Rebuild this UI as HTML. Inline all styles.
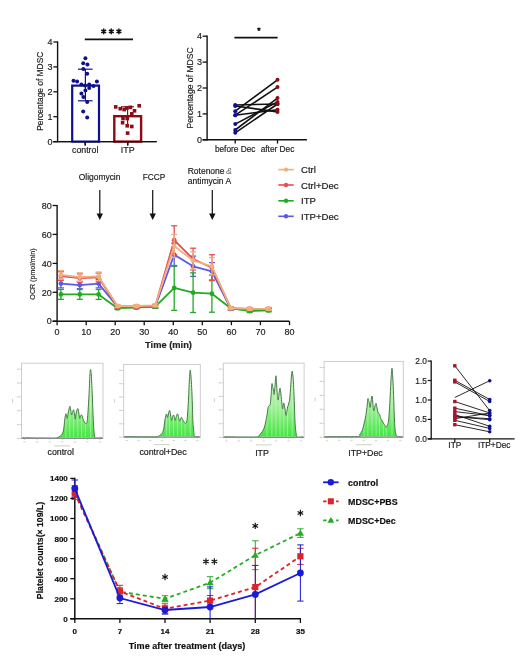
<!DOCTYPE html>
<html><head><meta charset="utf-8"><title>Figure</title>
<style>
html,body{margin:0;padding:0;background:#fff;}
svg{display:block;will-change:transform;}
svg text{font-family:"Liberation Sans", sans-serif;}
</style></head>
<body>
<svg width="520" height="661" viewBox="0 0 520 661">
<rect width="520" height="661" fill="#fff"/>
<line x1="57.6" y1="41.4" x2="57.6" y2="142.2" stroke="#111" stroke-width="1.4" />
<line x1="53.1" y1="141.6" x2="156.6" y2="141.6" stroke="#111" stroke-width="1.4" />
<line x1="53.4" y1="141.6" x2="57.6" y2="141.6" stroke="#111" stroke-width="1.3" />
<text x="52.6" y="144.8" font-size="9" text-anchor="end" font-weight="normal" fill="#222" stroke="#222" stroke-width="0.18" >0</text>
<line x1="53.4" y1="116.7" x2="57.6" y2="116.7" stroke="#111" stroke-width="1.3" />
<text x="52.6" y="119.9" font-size="9" text-anchor="end" font-weight="normal" fill="#222" stroke="#222" stroke-width="0.18" >1</text>
<line x1="53.4" y1="91.8" x2="57.6" y2="91.8" stroke="#111" stroke-width="1.3" />
<text x="52.6" y="95.0" font-size="9" text-anchor="end" font-weight="normal" fill="#222" stroke="#222" stroke-width="0.18" >2</text>
<line x1="53.4" y1="66.9" x2="57.6" y2="66.9" stroke="#111" stroke-width="1.3" />
<text x="52.6" y="70.1" font-size="9" text-anchor="end" font-weight="normal" fill="#222" stroke="#222" stroke-width="0.18" >3</text>
<line x1="53.4" y1="42.0" x2="57.6" y2="42.0" stroke="#111" stroke-width="1.3" />
<text x="52.6" y="45.2" font-size="9" text-anchor="end" font-weight="normal" fill="#222" stroke="#222" stroke-width="0.18" >4</text>
<line x1="85.2" y1="141.6" x2="85.2" y2="145.6" stroke="#111" stroke-width="1.3" />
<line x1="127.7" y1="141.6" x2="127.7" y2="145.6" stroke="#111" stroke-width="1.3" />
<text x="85.2" y="153.4" font-size="8.8" text-anchor="middle" font-weight="normal" fill="#222" stroke="#222" stroke-width="0.18" >control</text>
<text x="127.7" y="153.4" font-size="8.8" text-anchor="middle" font-weight="normal" fill="#222" stroke="#222" stroke-width="0.18" >ITP</text>
<text x="0" y="0" transform="translate(40.2,91.3) rotate(-90)" font-size="8.4" text-anchor="middle" dominant-baseline="central" font-weight="normal" fill="#222" stroke="#222" stroke-width="0.18">Percentage of MDSC</text>
<rect x="72.2" y="85.6" width="26.8" height="56.0" fill="none" stroke="#10108e" stroke-width="2.2"/>
<rect x="114.3" y="116.2" width="26.8" height="25.4" fill="none" stroke="#8c0c16" stroke-width="2.4"/>
<line x1="85.4" y1="69.2" x2="85.4" y2="100.8" stroke="#10108e" stroke-width="1.2" />
<line x1="78.0" y1="69.2" x2="92.6" y2="69.2" stroke="#10108e" stroke-width="1.2" />
<line x1="78.0" y1="100.8" x2="92.6" y2="100.8" stroke="#10108e" stroke-width="1.2" />
<line x1="127.6" y1="106.8" x2="127.6" y2="126.0" stroke="#8c0c16" stroke-width="1.2" />
<line x1="121.0" y1="106.8" x2="134.0" y2="106.8" stroke="#8c0c16" stroke-width="1.2" />
<circle cx="85.4" cy="58.3" r="2.0" fill="#10108e"/>
<circle cx="83.2" cy="63.2" r="2.0" fill="#10108e"/>
<circle cx="87.4" cy="64.4" r="2.0" fill="#10108e"/>
<circle cx="83.4" cy="68.9" r="2.0" fill="#10108e"/>
<circle cx="87.2" cy="73.8" r="2.0" fill="#10108e"/>
<circle cx="73.5" cy="80.8" r="2.0" fill="#10108e"/>
<circle cx="77.1" cy="81.6" r="2.0" fill="#10108e"/>
<circle cx="96.9" cy="81.6" r="2.0" fill="#10108e"/>
<circle cx="81.4" cy="84.4" r="2.0" fill="#10108e"/>
<circle cx="85" cy="85.6" r="2.0" fill="#10108e"/>
<circle cx="89.2" cy="84.4" r="2.0" fill="#10108e"/>
<circle cx="93.5" cy="86" r="2.0" fill="#10108e"/>
<circle cx="89.2" cy="88" r="2.0" fill="#10108e"/>
<circle cx="85.4" cy="90.5" r="2.0" fill="#10108e"/>
<circle cx="81.4" cy="93.5" r="2.0" fill="#10108e"/>
<circle cx="83.4" cy="97.1" r="2.0" fill="#10108e"/>
<circle cx="87.2" cy="102" r="2.0" fill="#10108e"/>
<circle cx="83.2" cy="111.4" r="2.0" fill="#10108e"/>
<circle cx="87.2" cy="117.4" r="2.0" fill="#10108e"/>
<rect x="113.9" y="105.1" width="3.6" height="3.6" fill="#8c0c16"/>
<rect x="118.5" y="106.9" width="3.6" height="3.6" fill="#8c0c16"/>
<rect x="122.4" y="107.8" width="3.6" height="3.6" fill="#8c0c16"/>
<rect x="125.0" y="106.3" width="3.6" height="3.6" fill="#8c0c16"/>
<rect x="128.5" y="105.5" width="3.6" height="3.6" fill="#8c0c16"/>
<rect x="137.4" y="104.0" width="3.6" height="3.6" fill="#8c0c16"/>
<rect x="132.7" y="109.0" width="3.6" height="3.6" fill="#8c0c16"/>
<rect x="130.0" y="112.0" width="3.6" height="3.6" fill="#8c0c16"/>
<rect x="121.2" y="116.7" width="3.6" height="3.6" fill="#8c0c16"/>
<rect x="125.4" y="116.7" width="3.6" height="3.6" fill="#8c0c16"/>
<rect x="120.8" y="120.9" width="3.6" height="3.6" fill="#8c0c16"/>
<rect x="125.4" y="124.0" width="3.6" height="3.6" fill="#8c0c16"/>
<rect x="130.0" y="124.7" width="3.6" height="3.6" fill="#8c0c16"/>
<rect x="125.8" y="131.3" width="3.6" height="3.6" fill="#8c0c16"/>
<line x1="53.1" y1="141.6" x2="156.6" y2="141.6" stroke="#111" stroke-width="1.4" />
<line x1="85.2" y1="141.6" x2="85.2" y2="145.6" stroke="#111" stroke-width="1.3" />
<line x1="127.7" y1="141.6" x2="127.7" y2="145.6" stroke="#111" stroke-width="1.3" />
<line x1="84.8" y1="39.4" x2="133.0" y2="39.4" stroke="#111" stroke-width="1.6" />
<path d="M103.70,28.60L103.70,34.20M106.12,30.00L101.28,32.80M106.12,32.80L101.28,30.00" stroke="#111" stroke-width="1.5" stroke-linecap="butt"/>
<path d="M111.30,28.60L111.30,34.20M113.72,30.00L108.88,32.80M113.72,32.80L108.88,30.00" stroke="#111" stroke-width="1.5" stroke-linecap="butt"/>
<path d="M118.90,28.60L118.90,34.20M121.32,30.00L116.48,32.80M121.32,32.80L116.48,30.00" stroke="#111" stroke-width="1.5" stroke-linecap="butt"/>
<line x1="207.1" y1="35.6" x2="207.1" y2="140.4" stroke="#111" stroke-width="1.4" />
<line x1="202.6" y1="139.8" x2="306.9" y2="139.8" stroke="#111" stroke-width="1.4" />
<line x1="202.6" y1="139.8" x2="207.1" y2="139.8" stroke="#111" stroke-width="1.3" />
<text x="202.1" y="143.0" font-size="9" text-anchor="end" font-weight="normal" fill="#222" stroke="#222" stroke-width="0.18" >0</text>
<line x1="202.6" y1="113.9" x2="207.1" y2="113.9" stroke="#111" stroke-width="1.3" />
<text x="202.1" y="117.1" font-size="9" text-anchor="end" font-weight="normal" fill="#222" stroke="#222" stroke-width="0.18" >1</text>
<line x1="202.6" y1="88.0" x2="207.1" y2="88.0" stroke="#111" stroke-width="1.3" />
<text x="202.1" y="91.2" font-size="9" text-anchor="end" font-weight="normal" fill="#222" stroke="#222" stroke-width="0.18" >2</text>
<line x1="202.6" y1="62.1" x2="207.1" y2="62.1" stroke="#111" stroke-width="1.3" />
<text x="202.1" y="65.3" font-size="9" text-anchor="end" font-weight="normal" fill="#222" stroke="#222" stroke-width="0.18" >3</text>
<line x1="202.6" y1="36.2" x2="207.1" y2="36.2" stroke="#111" stroke-width="1.3" />
<text x="202.1" y="39.4" font-size="9" text-anchor="end" font-weight="normal" fill="#222" stroke="#222" stroke-width="0.18" >4</text>
<line x1="235.2" y1="139.8" x2="235.2" y2="143.6" stroke="#111" stroke-width="1.3" />
<line x1="277.5" y1="139.8" x2="277.5" y2="143.6" stroke="#111" stroke-width="1.3" />
<text x="235.2" y="151.8" font-size="8.3" text-anchor="middle" font-weight="normal" fill="#222" stroke="#222" stroke-width="0.18" >before Dec</text>
<text x="277.5" y="151.8" font-size="8.3" text-anchor="middle" font-weight="normal" fill="#222" stroke="#222" stroke-width="0.18" >after Dec</text>
<text x="0" y="0" transform="translate(189.8,87.9) rotate(-90)" font-size="8.6" text-anchor="middle" dominant-baseline="central" font-weight="normal" fill="#222" stroke="#222" stroke-width="0.18">Percentage of MDSC</text>
<line x1="234.4" y1="37.6" x2="277.6" y2="37.6" stroke="#111" stroke-width="1.6" />
<path d="M258.90,27.40L258.90,31.00M260.46,28.30L257.34,30.10M260.46,30.10L257.34,28.30" stroke="#111" stroke-width="1.1" stroke-linecap="butt"/>
<line x1="235.2" y1="105.0" x2="277.5" y2="104.0" stroke="#111" stroke-width="1.6" />
<line x1="235.2" y1="106.0" x2="277.5" y2="111.9" stroke="#111" stroke-width="1.6" />
<line x1="235.2" y1="111.2" x2="277.5" y2="79.8" stroke="#111" stroke-width="1.6" />
<line x1="235.2" y1="115.2" x2="277.5" y2="87.1" stroke="#111" stroke-width="1.6" />
<line x1="235.2" y1="115.2" x2="277.5" y2="109.8" stroke="#111" stroke-width="1.6" />
<line x1="235.2" y1="124.1" x2="277.5" y2="101.9" stroke="#111" stroke-width="1.6" />
<line x1="235.2" y1="130.0" x2="277.5" y2="98.1" stroke="#111" stroke-width="1.6" />
<line x1="235.2" y1="132.8" x2="277.5" y2="104.0" stroke="#111" stroke-width="1.6" />
<circle cx="235.25" cy="105" r="2.0" fill="#10108e"/>
<circle cx="277.5" cy="104" r="2.0" fill="#8c0c16"/>
<circle cx="235.25" cy="106" r="2.0" fill="#10108e"/>
<circle cx="277.5" cy="111.9" r="2.0" fill="#8c0c16"/>
<circle cx="235.25" cy="111.25" r="2.0" fill="#10108e"/>
<circle cx="277.5" cy="79.75" r="2.0" fill="#8c0c16"/>
<circle cx="235.25" cy="115.25" r="2.0" fill="#10108e"/>
<circle cx="277.5" cy="87.1" r="2.0" fill="#8c0c16"/>
<circle cx="235.25" cy="115.25" r="2.0" fill="#10108e"/>
<circle cx="277.5" cy="109.75" r="2.0" fill="#8c0c16"/>
<circle cx="235.25" cy="124.1" r="2.0" fill="#10108e"/>
<circle cx="277.5" cy="101.9" r="2.0" fill="#8c0c16"/>
<circle cx="235.25" cy="130" r="2.0" fill="#10108e"/>
<circle cx="277.5" cy="98.1" r="2.0" fill="#8c0c16"/>
<circle cx="235.25" cy="132.75" r="2.0" fill="#10108e"/>
<circle cx="277.5" cy="104" r="2.0" fill="#8c0c16"/>
<line x1="57.1" y1="204.9" x2="57.1" y2="321.8" stroke="#111" stroke-width="1.4" />
<line x1="52.6" y1="321.2" x2="289.5" y2="321.2" stroke="#111" stroke-width="1.4" />
<line x1="52.6" y1="321.2" x2="57.1" y2="321.2" stroke="#111" stroke-width="1.3" />
<text x="51.8" y="324.4" font-size="9" text-anchor="end" font-weight="normal" fill="#222" stroke="#222" stroke-width="0.18" >0</text>
<line x1="52.6" y1="292.3" x2="57.1" y2="292.3" stroke="#111" stroke-width="1.3" />
<text x="51.8" y="295.5" font-size="9" text-anchor="end" font-weight="normal" fill="#222" stroke="#222" stroke-width="0.18" >20</text>
<line x1="52.6" y1="263.4" x2="57.1" y2="263.4" stroke="#111" stroke-width="1.3" />
<text x="51.8" y="266.6" font-size="9" text-anchor="end" font-weight="normal" fill="#222" stroke="#222" stroke-width="0.18" >40</text>
<line x1="52.6" y1="234.4" x2="57.1" y2="234.4" stroke="#111" stroke-width="1.3" />
<text x="51.8" y="237.6" font-size="9" text-anchor="end" font-weight="normal" fill="#222" stroke="#222" stroke-width="0.18" >60</text>
<line x1="52.6" y1="205.5" x2="57.1" y2="205.5" stroke="#111" stroke-width="1.3" />
<text x="51.8" y="208.7" font-size="9" text-anchor="end" font-weight="normal" fill="#222" stroke="#222" stroke-width="0.18" >80</text>
<line x1="57.1" y1="321.2" x2="57.1" y2="325.2" stroke="#111" stroke-width="1.3" />
<text x="57.1" y="335.0" font-size="9" text-anchor="middle" font-weight="normal" fill="#222" stroke="#222" stroke-width="0.18" >0</text>
<line x1="86.2" y1="321.2" x2="86.2" y2="325.2" stroke="#111" stroke-width="1.3" />
<text x="86.2" y="335.0" font-size="9" text-anchor="middle" font-weight="normal" fill="#222" stroke="#222" stroke-width="0.18" >10</text>
<line x1="115.2" y1="321.2" x2="115.2" y2="325.2" stroke="#111" stroke-width="1.3" />
<text x="115.2" y="335.0" font-size="9" text-anchor="middle" font-weight="normal" fill="#222" stroke="#222" stroke-width="0.18" >20</text>
<line x1="144.2" y1="321.2" x2="144.2" y2="325.2" stroke="#111" stroke-width="1.3" />
<text x="144.2" y="335.0" font-size="9" text-anchor="middle" font-weight="normal" fill="#222" stroke="#222" stroke-width="0.18" >30</text>
<line x1="173.3" y1="321.2" x2="173.3" y2="325.2" stroke="#111" stroke-width="1.3" />
<text x="173.3" y="335.0" font-size="9" text-anchor="middle" font-weight="normal" fill="#222" stroke="#222" stroke-width="0.18" >40</text>
<line x1="202.3" y1="321.2" x2="202.3" y2="325.2" stroke="#111" stroke-width="1.3" />
<text x="202.3" y="335.0" font-size="9" text-anchor="middle" font-weight="normal" fill="#222" stroke="#222" stroke-width="0.18" >50</text>
<line x1="231.4" y1="321.2" x2="231.4" y2="325.2" stroke="#111" stroke-width="1.3" />
<text x="231.4" y="335.0" font-size="9" text-anchor="middle" font-weight="normal" fill="#222" stroke="#222" stroke-width="0.18" >60</text>
<line x1="260.4" y1="321.2" x2="260.4" y2="325.2" stroke="#111" stroke-width="1.3" />
<text x="260.4" y="335.0" font-size="9" text-anchor="middle" font-weight="normal" fill="#222" stroke="#222" stroke-width="0.18" >70</text>
<line x1="289.5" y1="321.2" x2="289.5" y2="325.2" stroke="#111" stroke-width="1.3" />
<text x="289.5" y="335.0" font-size="9" text-anchor="middle" font-weight="normal" fill="#222" stroke="#222" stroke-width="0.18" >80</text>
<text x="0" y="0" transform="translate(32.5,274.0) rotate(-90)" font-size="7.1" text-anchor="middle" dominant-baseline="central" font-weight="normal" fill="#222" stroke="#222" stroke-width="0.18">OCR (pmol/min)</text>
<text x="168.5" y="348.2" font-size="9.3" text-anchor="middle" font-weight="bold" fill="#222" stroke="#222" stroke-width="0.18" >Time (min)</text>
<line x1="99.8" y1="190.0" x2="99.8" y2="214.0" stroke="#111" stroke-width="1.2" />
<path d="M96.6,213.5 L103.0,213.5 L99.8,220 Z" fill="#111"/>
<line x1="152.7" y1="190.0" x2="152.7" y2="214.0" stroke="#111" stroke-width="1.2" />
<path d="M149.5,213.5 L155.9,213.5 L152.7,220 Z" fill="#111"/>
<line x1="212.3" y1="190.0" x2="212.3" y2="214.0" stroke="#111" stroke-width="1.2" />
<path d="M209.1,213.5 L215.5,213.5 L212.3,220 Z" fill="#111"/>
<text x="78.7" y="180.4" font-size="8.45" text-anchor="start" font-weight="normal" fill="#222" stroke="#222" stroke-width="0.18" >Oligomycin</text>
<text x="142.7" y="180.4" font-size="8.3" text-anchor="start" font-weight="normal" fill="#222" stroke="#222" stroke-width="0.18" >FCCP</text>
<text x="187.7" y="173.8" font-size="8.5" text-anchor="start" font-weight="normal" fill="#222" stroke="#222" stroke-width="0.18" >Rotenone</text>
<text x="226" y="173.8" font-size="9" font-family="Liberation Serif, serif" font-style="italic" fill="#666">&amp;</text>
<text x="187.7" y="184.0" font-size="8.5" text-anchor="start" font-weight="normal" fill="#222" stroke="#222" stroke-width="0.18" >antimycin A</text>
<polyline points="60.9,283.6 79.8,285.1 98.6,283.6 117.5,306.7 136.4,306.7 155.3,306.7 174.2,254.7 193.1,266.3 211.9,271.3 230.8,308.9 249.7,309.6 268.6,309.6" fill="none" stroke="#5a5ae6" stroke-width="1.8" stroke-linejoin="round"/>
<line x1="60.9" y1="279.3" x2="60.9" y2="287.9" stroke="#5a5ae6" stroke-width="1.3" />
<line x1="57.9" y1="279.3" x2="63.9" y2="279.3" stroke="#5a5ae6" stroke-width="1.3" />
<line x1="57.9" y1="287.9" x2="63.9" y2="287.9" stroke="#5a5ae6" stroke-width="1.3" />
<circle cx="60.9" cy="283.6" r="2.4" fill="#5a5ae6"/>
<line x1="79.8" y1="281.4" x2="79.8" y2="288.7" stroke="#5a5ae6" stroke-width="1.3" />
<line x1="76.8" y1="281.4" x2="82.8" y2="281.4" stroke="#5a5ae6" stroke-width="1.3" />
<line x1="76.8" y1="288.7" x2="82.8" y2="288.7" stroke="#5a5ae6" stroke-width="1.3" />
<circle cx="79.8" cy="285.1" r="2.4" fill="#5a5ae6"/>
<line x1="98.6" y1="279.3" x2="98.6" y2="287.9" stroke="#5a5ae6" stroke-width="1.3" />
<line x1="95.6" y1="279.3" x2="101.6" y2="279.3" stroke="#5a5ae6" stroke-width="1.3" />
<line x1="95.6" y1="287.9" x2="101.6" y2="287.9" stroke="#5a5ae6" stroke-width="1.3" />
<circle cx="98.6" cy="283.6" r="2.4" fill="#5a5ae6"/>
<line x1="117.5" y1="305.3" x2="117.5" y2="308.2" stroke="#5a5ae6" stroke-width="1.3" />
<line x1="114.5" y1="305.3" x2="120.5" y2="305.3" stroke="#5a5ae6" stroke-width="1.3" />
<line x1="114.5" y1="308.2" x2="120.5" y2="308.2" stroke="#5a5ae6" stroke-width="1.3" />
<circle cx="117.5" cy="306.7" r="2.4" fill="#5a5ae6"/>
<line x1="136.4" y1="305.3" x2="136.4" y2="308.2" stroke="#5a5ae6" stroke-width="1.3" />
<line x1="133.4" y1="305.3" x2="139.4" y2="305.3" stroke="#5a5ae6" stroke-width="1.3" />
<line x1="133.4" y1="308.2" x2="139.4" y2="308.2" stroke="#5a5ae6" stroke-width="1.3" />
<circle cx="136.4" cy="306.7" r="2.4" fill="#5a5ae6"/>
<line x1="155.3" y1="305.3" x2="155.3" y2="308.2" stroke="#5a5ae6" stroke-width="1.3" />
<line x1="152.3" y1="305.3" x2="158.3" y2="305.3" stroke="#5a5ae6" stroke-width="1.3" />
<line x1="152.3" y1="308.2" x2="158.3" y2="308.2" stroke="#5a5ae6" stroke-width="1.3" />
<circle cx="155.3" cy="306.7" r="2.4" fill="#5a5ae6"/>
<line x1="174.2" y1="243.1" x2="174.2" y2="266.3" stroke="#5a5ae6" stroke-width="1.3" />
<line x1="171.2" y1="243.1" x2="177.2" y2="243.1" stroke="#5a5ae6" stroke-width="1.3" />
<line x1="171.2" y1="266.3" x2="177.2" y2="266.3" stroke="#5a5ae6" stroke-width="1.3" />
<circle cx="174.2" cy="254.7" r="2.4" fill="#5a5ae6"/>
<line x1="193.1" y1="256.1" x2="193.1" y2="276.4" stroke="#5a5ae6" stroke-width="1.3" />
<line x1="190.1" y1="256.1" x2="196.1" y2="256.1" stroke="#5a5ae6" stroke-width="1.3" />
<line x1="190.1" y1="276.4" x2="196.1" y2="276.4" stroke="#5a5ae6" stroke-width="1.3" />
<circle cx="193.1" cy="266.3" r="2.4" fill="#5a5ae6"/>
<line x1="211.9" y1="262.6" x2="211.9" y2="280.0" stroke="#5a5ae6" stroke-width="1.3" />
<line x1="208.9" y1="262.6" x2="214.9" y2="262.6" stroke="#5a5ae6" stroke-width="1.3" />
<line x1="208.9" y1="280.0" x2="214.9" y2="280.0" stroke="#5a5ae6" stroke-width="1.3" />
<circle cx="211.9" cy="271.3" r="2.4" fill="#5a5ae6"/>
<line x1="230.8" y1="307.5" x2="230.8" y2="310.4" stroke="#5a5ae6" stroke-width="1.3" />
<line x1="227.8" y1="307.5" x2="233.8" y2="307.5" stroke="#5a5ae6" stroke-width="1.3" />
<line x1="227.8" y1="310.4" x2="233.8" y2="310.4" stroke="#5a5ae6" stroke-width="1.3" />
<circle cx="230.8" cy="308.9" r="2.4" fill="#5a5ae6"/>
<line x1="249.7" y1="308.2" x2="249.7" y2="311.1" stroke="#5a5ae6" stroke-width="1.3" />
<line x1="246.7" y1="308.2" x2="252.7" y2="308.2" stroke="#5a5ae6" stroke-width="1.3" />
<line x1="246.7" y1="311.1" x2="252.7" y2="311.1" stroke="#5a5ae6" stroke-width="1.3" />
<circle cx="249.7" cy="309.6" r="2.4" fill="#5a5ae6"/>
<line x1="268.6" y1="308.2" x2="268.6" y2="311.1" stroke="#5a5ae6" stroke-width="1.3" />
<line x1="265.6" y1="308.2" x2="271.6" y2="308.2" stroke="#5a5ae6" stroke-width="1.3" />
<line x1="265.6" y1="311.1" x2="271.6" y2="311.1" stroke="#5a5ae6" stroke-width="1.3" />
<circle cx="268.6" cy="309.6" r="2.4" fill="#5a5ae6"/>
<polyline points="60.9,294.4 79.8,294.4 98.6,294.4 117.5,308.2 136.4,307.5 155.3,306.7 174.2,287.9 193.1,292.7 211.9,293.7 230.8,308.2 249.7,311.1 268.6,310.4" fill="none" stroke="#22aa22" stroke-width="1.8" stroke-linejoin="round"/>
<line x1="60.9" y1="289.5" x2="60.9" y2="299.4" stroke="#22aa22" stroke-width="1.3" />
<line x1="57.9" y1="289.5" x2="63.9" y2="289.5" stroke="#22aa22" stroke-width="1.3" />
<line x1="57.9" y1="299.4" x2="63.9" y2="299.4" stroke="#22aa22" stroke-width="1.3" />
<circle cx="60.9" cy="294.4" r="2.4" fill="#22aa22"/>
<line x1="79.8" y1="289.5" x2="79.8" y2="299.4" stroke="#22aa22" stroke-width="1.3" />
<line x1="76.8" y1="289.5" x2="82.8" y2="289.5" stroke="#22aa22" stroke-width="1.3" />
<line x1="76.8" y1="299.4" x2="82.8" y2="299.4" stroke="#22aa22" stroke-width="1.3" />
<circle cx="79.8" cy="294.4" r="2.4" fill="#22aa22"/>
<line x1="98.6" y1="289.5" x2="98.6" y2="299.4" stroke="#22aa22" stroke-width="1.3" />
<line x1="95.6" y1="289.5" x2="101.6" y2="289.5" stroke="#22aa22" stroke-width="1.3" />
<line x1="95.6" y1="299.4" x2="101.6" y2="299.4" stroke="#22aa22" stroke-width="1.3" />
<circle cx="98.6" cy="294.4" r="2.4" fill="#22aa22"/>
<line x1="117.5" y1="306.7" x2="117.5" y2="309.6" stroke="#22aa22" stroke-width="1.3" />
<line x1="114.5" y1="306.7" x2="120.5" y2="306.7" stroke="#22aa22" stroke-width="1.3" />
<line x1="114.5" y1="309.6" x2="120.5" y2="309.6" stroke="#22aa22" stroke-width="1.3" />
<circle cx="117.5" cy="308.2" r="2.4" fill="#22aa22"/>
<line x1="136.4" y1="306.0" x2="136.4" y2="308.9" stroke="#22aa22" stroke-width="1.3" />
<line x1="133.4" y1="306.0" x2="139.4" y2="306.0" stroke="#22aa22" stroke-width="1.3" />
<line x1="133.4" y1="308.9" x2="139.4" y2="308.9" stroke="#22aa22" stroke-width="1.3" />
<circle cx="136.4" cy="307.5" r="2.4" fill="#22aa22"/>
<line x1="155.3" y1="305.3" x2="155.3" y2="308.2" stroke="#22aa22" stroke-width="1.3" />
<line x1="152.3" y1="305.3" x2="158.3" y2="305.3" stroke="#22aa22" stroke-width="1.3" />
<line x1="152.3" y1="308.2" x2="158.3" y2="308.2" stroke="#22aa22" stroke-width="1.3" />
<circle cx="155.3" cy="306.7" r="2.4" fill="#22aa22"/>
<line x1="174.2" y1="265.5" x2="174.2" y2="310.4" stroke="#22aa22" stroke-width="1.3" />
<line x1="171.2" y1="265.5" x2="177.2" y2="265.5" stroke="#22aa22" stroke-width="1.3" />
<line x1="171.2" y1="310.4" x2="177.2" y2="310.4" stroke="#22aa22" stroke-width="1.3" />
<circle cx="174.2" cy="287.9" r="2.4" fill="#22aa22"/>
<line x1="193.1" y1="272.9" x2="193.1" y2="312.5" stroke="#22aa22" stroke-width="1.3" />
<line x1="190.1" y1="272.9" x2="196.1" y2="272.9" stroke="#22aa22" stroke-width="1.3" />
<line x1="190.1" y1="312.5" x2="196.1" y2="312.5" stroke="#22aa22" stroke-width="1.3" />
<circle cx="193.1" cy="292.7" r="2.4" fill="#22aa22"/>
<line x1="211.9" y1="275.2" x2="211.9" y2="312.2" stroke="#22aa22" stroke-width="1.3" />
<line x1="208.9" y1="275.2" x2="214.9" y2="275.2" stroke="#22aa22" stroke-width="1.3" />
<line x1="208.9" y1="312.2" x2="214.9" y2="312.2" stroke="#22aa22" stroke-width="1.3" />
<circle cx="211.9" cy="293.7" r="2.4" fill="#22aa22"/>
<line x1="230.8" y1="306.7" x2="230.8" y2="309.6" stroke="#22aa22" stroke-width="1.3" />
<line x1="227.8" y1="306.7" x2="233.8" y2="306.7" stroke="#22aa22" stroke-width="1.3" />
<line x1="227.8" y1="309.6" x2="233.8" y2="309.6" stroke="#22aa22" stroke-width="1.3" />
<circle cx="230.8" cy="308.2" r="2.4" fill="#22aa22"/>
<line x1="249.7" y1="309.6" x2="249.7" y2="312.5" stroke="#22aa22" stroke-width="1.3" />
<line x1="246.7" y1="309.6" x2="252.7" y2="309.6" stroke="#22aa22" stroke-width="1.3" />
<line x1="246.7" y1="312.5" x2="252.7" y2="312.5" stroke="#22aa22" stroke-width="1.3" />
<circle cx="249.7" cy="311.1" r="2.4" fill="#22aa22"/>
<line x1="268.6" y1="308.9" x2="268.6" y2="311.8" stroke="#22aa22" stroke-width="1.3" />
<line x1="265.6" y1="308.9" x2="271.6" y2="308.9" stroke="#22aa22" stroke-width="1.3" />
<line x1="265.6" y1="311.8" x2="271.6" y2="311.8" stroke="#22aa22" stroke-width="1.3" />
<circle cx="268.6" cy="310.4" r="2.4" fill="#22aa22"/>
<polyline points="60.9,276.1 79.8,278.1 98.6,277.4 117.5,306.7 136.4,306.7 155.3,306.0 174.2,240.2 193.1,259.0 211.9,267.7 230.8,308.2 249.7,308.9 268.6,308.9" fill="none" stroke="#ea4a52" stroke-width="1.8" stroke-linejoin="round"/>
<line x1="60.9" y1="271.7" x2="60.9" y2="280.4" stroke="#ea4a52" stroke-width="1.3" />
<line x1="57.9" y1="271.7" x2="63.9" y2="271.7" stroke="#ea4a52" stroke-width="1.3" />
<line x1="57.9" y1="280.4" x2="63.9" y2="280.4" stroke="#ea4a52" stroke-width="1.3" />
<circle cx="60.9" cy="276.1" r="2.4" fill="#ea4a52"/>
<line x1="79.8" y1="273.8" x2="79.8" y2="282.4" stroke="#ea4a52" stroke-width="1.3" />
<line x1="76.8" y1="273.8" x2="82.8" y2="273.8" stroke="#ea4a52" stroke-width="1.3" />
<line x1="76.8" y1="282.4" x2="82.8" y2="282.4" stroke="#ea4a52" stroke-width="1.3" />
<circle cx="79.8" cy="278.1" r="2.4" fill="#ea4a52"/>
<line x1="98.6" y1="273.0" x2="98.6" y2="281.7" stroke="#ea4a52" stroke-width="1.3" />
<line x1="95.6" y1="273.0" x2="101.6" y2="273.0" stroke="#ea4a52" stroke-width="1.3" />
<line x1="95.6" y1="281.7" x2="101.6" y2="281.7" stroke="#ea4a52" stroke-width="1.3" />
<circle cx="98.6" cy="277.4" r="2.4" fill="#ea4a52"/>
<line x1="117.5" y1="305.3" x2="117.5" y2="308.2" stroke="#ea4a52" stroke-width="1.3" />
<line x1="114.5" y1="305.3" x2="120.5" y2="305.3" stroke="#ea4a52" stroke-width="1.3" />
<line x1="114.5" y1="308.2" x2="120.5" y2="308.2" stroke="#ea4a52" stroke-width="1.3" />
<circle cx="117.5" cy="306.7" r="2.4" fill="#ea4a52"/>
<line x1="136.4" y1="305.3" x2="136.4" y2="308.2" stroke="#ea4a52" stroke-width="1.3" />
<line x1="133.4" y1="305.3" x2="139.4" y2="305.3" stroke="#ea4a52" stroke-width="1.3" />
<line x1="133.4" y1="308.2" x2="139.4" y2="308.2" stroke="#ea4a52" stroke-width="1.3" />
<circle cx="136.4" cy="306.7" r="2.4" fill="#ea4a52"/>
<line x1="155.3" y1="304.6" x2="155.3" y2="307.5" stroke="#ea4a52" stroke-width="1.3" />
<line x1="152.3" y1="304.6" x2="158.3" y2="304.6" stroke="#ea4a52" stroke-width="1.3" />
<line x1="152.3" y1="307.5" x2="158.3" y2="307.5" stroke="#ea4a52" stroke-width="1.3" />
<circle cx="155.3" cy="306.0" r="2.4" fill="#ea4a52"/>
<line x1="174.2" y1="225.8" x2="174.2" y2="254.7" stroke="#ea4a52" stroke-width="1.3" />
<line x1="171.2" y1="225.8" x2="177.2" y2="225.8" stroke="#ea4a52" stroke-width="1.3" />
<line x1="171.2" y1="254.7" x2="177.2" y2="254.7" stroke="#ea4a52" stroke-width="1.3" />
<circle cx="174.2" cy="240.2" r="2.4" fill="#ea4a52"/>
<line x1="193.1" y1="248.2" x2="193.1" y2="269.9" stroke="#ea4a52" stroke-width="1.3" />
<line x1="190.1" y1="248.2" x2="196.1" y2="248.2" stroke="#ea4a52" stroke-width="1.3" />
<line x1="190.1" y1="269.9" x2="196.1" y2="269.9" stroke="#ea4a52" stroke-width="1.3" />
<circle cx="193.1" cy="259.0" r="2.4" fill="#ea4a52"/>
<line x1="211.9" y1="254.7" x2="211.9" y2="280.7" stroke="#ea4a52" stroke-width="1.3" />
<line x1="208.9" y1="254.7" x2="214.9" y2="254.7" stroke="#ea4a52" stroke-width="1.3" />
<line x1="208.9" y1="280.7" x2="214.9" y2="280.7" stroke="#ea4a52" stroke-width="1.3" />
<circle cx="211.9" cy="267.7" r="2.4" fill="#ea4a52"/>
<line x1="230.8" y1="306.7" x2="230.8" y2="309.6" stroke="#ea4a52" stroke-width="1.3" />
<line x1="227.8" y1="306.7" x2="233.8" y2="306.7" stroke="#ea4a52" stroke-width="1.3" />
<line x1="227.8" y1="309.6" x2="233.8" y2="309.6" stroke="#ea4a52" stroke-width="1.3" />
<circle cx="230.8" cy="308.2" r="2.4" fill="#ea4a52"/>
<line x1="249.7" y1="307.5" x2="249.7" y2="310.4" stroke="#ea4a52" stroke-width="1.3" />
<line x1="246.7" y1="307.5" x2="252.7" y2="307.5" stroke="#ea4a52" stroke-width="1.3" />
<line x1="246.7" y1="310.4" x2="252.7" y2="310.4" stroke="#ea4a52" stroke-width="1.3" />
<circle cx="249.7" cy="308.9" r="2.4" fill="#ea4a52"/>
<line x1="268.6" y1="307.5" x2="268.6" y2="310.4" stroke="#ea4a52" stroke-width="1.3" />
<line x1="265.6" y1="307.5" x2="271.6" y2="307.5" stroke="#ea4a52" stroke-width="1.3" />
<line x1="265.6" y1="310.4" x2="271.6" y2="310.4" stroke="#ea4a52" stroke-width="1.3" />
<circle cx="268.6" cy="308.9" r="2.4" fill="#ea4a52"/>
<polyline points="60.9,274.9 79.8,277.1 98.6,276.4 117.5,306.0 136.4,306.0 155.3,305.3 174.2,246.0 193.1,260.5 211.9,266.3 230.8,308.2 249.7,308.9 268.6,308.9" fill="none" stroke="#f0b07c" stroke-width="1.8" stroke-linejoin="round"/>
<line x1="60.9" y1="270.6" x2="60.9" y2="279.3" stroke="#f0b07c" stroke-width="1.3" />
<line x1="57.9" y1="270.6" x2="63.9" y2="270.6" stroke="#f0b07c" stroke-width="1.3" />
<line x1="57.9" y1="279.3" x2="63.9" y2="279.3" stroke="#f0b07c" stroke-width="1.3" />
<circle cx="60.9" cy="274.9" r="2.4" fill="#f0b07c"/>
<line x1="79.8" y1="272.8" x2="79.8" y2="281.4" stroke="#f0b07c" stroke-width="1.3" />
<line x1="76.8" y1="272.8" x2="82.8" y2="272.8" stroke="#f0b07c" stroke-width="1.3" />
<line x1="76.8" y1="281.4" x2="82.8" y2="281.4" stroke="#f0b07c" stroke-width="1.3" />
<circle cx="79.8" cy="277.1" r="2.4" fill="#f0b07c"/>
<line x1="98.6" y1="272.0" x2="98.6" y2="280.7" stroke="#f0b07c" stroke-width="1.3" />
<line x1="95.6" y1="272.0" x2="101.6" y2="272.0" stroke="#f0b07c" stroke-width="1.3" />
<line x1="95.6" y1="280.7" x2="101.6" y2="280.7" stroke="#f0b07c" stroke-width="1.3" />
<circle cx="98.6" cy="276.4" r="2.4" fill="#f0b07c"/>
<line x1="117.5" y1="304.6" x2="117.5" y2="307.5" stroke="#f0b07c" stroke-width="1.3" />
<line x1="114.5" y1="304.6" x2="120.5" y2="304.6" stroke="#f0b07c" stroke-width="1.3" />
<line x1="114.5" y1="307.5" x2="120.5" y2="307.5" stroke="#f0b07c" stroke-width="1.3" />
<circle cx="117.5" cy="306.0" r="2.4" fill="#f0b07c"/>
<line x1="136.4" y1="304.6" x2="136.4" y2="307.5" stroke="#f0b07c" stroke-width="1.3" />
<line x1="133.4" y1="304.6" x2="139.4" y2="304.6" stroke="#f0b07c" stroke-width="1.3" />
<line x1="133.4" y1="307.5" x2="139.4" y2="307.5" stroke="#f0b07c" stroke-width="1.3" />
<circle cx="136.4" cy="306.0" r="2.4" fill="#f0b07c"/>
<line x1="155.3" y1="303.8" x2="155.3" y2="306.7" stroke="#f0b07c" stroke-width="1.3" />
<line x1="152.3" y1="303.8" x2="158.3" y2="303.8" stroke="#f0b07c" stroke-width="1.3" />
<line x1="152.3" y1="306.7" x2="158.3" y2="306.7" stroke="#f0b07c" stroke-width="1.3" />
<circle cx="155.3" cy="305.3" r="2.4" fill="#f0b07c"/>
<line x1="174.2" y1="234.4" x2="174.2" y2="257.6" stroke="#f0b07c" stroke-width="1.3" />
<line x1="171.2" y1="234.4" x2="177.2" y2="234.4" stroke="#f0b07c" stroke-width="1.3" />
<line x1="171.2" y1="257.6" x2="177.2" y2="257.6" stroke="#f0b07c" stroke-width="1.3" />
<circle cx="174.2" cy="246.0" r="2.4" fill="#f0b07c"/>
<line x1="193.1" y1="251.8" x2="193.1" y2="269.1" stroke="#f0b07c" stroke-width="1.3" />
<line x1="190.1" y1="251.8" x2="196.1" y2="251.8" stroke="#f0b07c" stroke-width="1.3" />
<line x1="190.1" y1="269.1" x2="196.1" y2="269.1" stroke="#f0b07c" stroke-width="1.3" />
<circle cx="193.1" cy="260.5" r="2.4" fill="#f0b07c"/>
<line x1="211.9" y1="257.6" x2="211.9" y2="274.9" stroke="#f0b07c" stroke-width="1.3" />
<line x1="208.9" y1="257.6" x2="214.9" y2="257.6" stroke="#f0b07c" stroke-width="1.3" />
<line x1="208.9" y1="274.9" x2="214.9" y2="274.9" stroke="#f0b07c" stroke-width="1.3" />
<circle cx="211.9" cy="266.3" r="2.4" fill="#f0b07c"/>
<line x1="230.8" y1="306.7" x2="230.8" y2="309.6" stroke="#f0b07c" stroke-width="1.3" />
<line x1="227.8" y1="306.7" x2="233.8" y2="306.7" stroke="#f0b07c" stroke-width="1.3" />
<line x1="227.8" y1="309.6" x2="233.8" y2="309.6" stroke="#f0b07c" stroke-width="1.3" />
<circle cx="230.8" cy="308.2" r="2.4" fill="#f0b07c"/>
<line x1="249.7" y1="307.5" x2="249.7" y2="310.4" stroke="#f0b07c" stroke-width="1.3" />
<line x1="246.7" y1="307.5" x2="252.7" y2="307.5" stroke="#f0b07c" stroke-width="1.3" />
<line x1="246.7" y1="310.4" x2="252.7" y2="310.4" stroke="#f0b07c" stroke-width="1.3" />
<circle cx="249.7" cy="308.9" r="2.4" fill="#f0b07c"/>
<line x1="268.6" y1="307.5" x2="268.6" y2="310.4" stroke="#f0b07c" stroke-width="1.3" />
<line x1="265.6" y1="307.5" x2="271.6" y2="307.5" stroke="#f0b07c" stroke-width="1.3" />
<line x1="265.6" y1="310.4" x2="271.6" y2="310.4" stroke="#f0b07c" stroke-width="1.3" />
<circle cx="268.6" cy="308.9" r="2.4" fill="#f0b07c"/>
<line x1="278.3" y1="169.6" x2="293.7" y2="169.6" stroke="#f0b07c" stroke-width="1.6" />
<circle cx="286" cy="169.6" r="2.2" fill="#f0b07c"/>
<text x="301.0" y="173.1" font-size="9.6" text-anchor="start" font-weight="normal" fill="#1a1a1a" stroke="#1a1a1a" stroke-width="0.18" >Ctrl</text>
<line x1="278.3" y1="185.0" x2="293.7" y2="185.0" stroke="#ea4a52" stroke-width="1.6" />
<circle cx="286" cy="185" r="2.2" fill="#ea4a52"/>
<text x="301.0" y="188.5" font-size="9.6" text-anchor="start" font-weight="normal" fill="#1a1a1a" stroke="#1a1a1a" stroke-width="0.18" >Ctrl+Dec</text>
<line x1="278.3" y1="200.8" x2="293.7" y2="200.8" stroke="#22aa22" stroke-width="1.6" />
<circle cx="286" cy="200.8" r="2.2" fill="#22aa22"/>
<text x="301.0" y="204.3" font-size="9.6" text-anchor="start" font-weight="normal" fill="#1a1a1a" stroke="#1a1a1a" stroke-width="0.18" >ITP</text>
<line x1="278.3" y1="216.3" x2="293.7" y2="216.3" stroke="#5a5ae6" stroke-width="1.6" />
<circle cx="286" cy="216.3" r="2.2" fill="#5a5ae6"/>
<text x="301.0" y="219.8" font-size="9.6" text-anchor="start" font-weight="normal" fill="#1a1a1a" stroke="#1a1a1a" stroke-width="0.18" >ITP+Dec</text>
<rect x="21.5" y="363.2" width="81.5" height="75.2" fill="#fff" stroke="#c8c8c8" stroke-width="0.9"/>
<defs><linearGradient id="hg1" gradientUnits="userSpaceOnUse" x1="0" y1="367.2" x2="0" y2="438.4"><stop offset="0" stop-color="#d6f7cf"/><stop offset="0.55" stop-color="#a2f09a"/><stop offset="0.82" stop-color="#68ea64"/><stop offset="1" stop-color="#40e640"/></linearGradient><clipPath id="hc1"><path d="M22.50,437.80C27.83,437.88 48.67,438.33 54.50,438.30C60.33,438.27 56.55,437.95 57.50,437.60C58.45,437.25 59.45,436.77 60.20,436.20C60.95,435.63 61.47,435.07 62.00,434.20C62.53,433.33 63.03,432.53 63.40,431.00C63.77,429.47 63.95,427.08 64.20,425.00C64.45,422.92 64.62,420.37 64.90,418.50C65.18,416.63 65.60,414.13 65.90,413.80C66.20,413.47 66.47,415.75 66.70,416.50C66.93,417.25 67.05,418.88 67.30,418.30C67.55,417.72 67.78,414.98 68.20,413.00C68.62,411.02 69.38,406.90 69.80,406.40C70.22,405.90 70.42,408.58 70.70,410.00C70.98,411.42 71.22,414.48 71.50,414.90C71.78,415.32 72.05,413.35 72.40,412.50C72.75,411.65 73.27,409.55 73.60,409.80C73.93,410.05 74.13,412.43 74.40,414.00C74.67,415.57 74.90,419.37 75.20,419.20C75.50,419.03 75.77,414.77 76.20,413.00C76.63,411.23 77.37,408.60 77.80,408.60C78.23,408.60 78.48,411.38 78.80,413.00C79.12,414.62 79.40,417.80 79.70,418.30C80.00,418.80 80.27,416.57 80.60,416.00C80.93,415.43 81.27,414.32 81.70,414.90C82.13,415.48 82.58,418.08 83.20,419.50C83.82,420.92 84.77,422.90 85.40,423.40C86.03,423.90 86.57,424.40 87.00,422.50C87.43,420.60 87.65,416.87 88.00,412.00C88.35,407.13 88.78,399.47 89.10,393.30C89.42,387.13 89.65,378.97 89.90,375.00C90.15,371.03 90.37,369.50 90.60,369.50C90.83,369.50 91.03,371.03 91.30,375.00C91.57,378.97 91.90,386.47 92.20,393.30C92.50,400.13 92.82,409.88 93.10,416.00C93.38,422.12 93.62,426.47 93.90,430.00C94.18,433.53 94.37,435.83 94.80,437.20C95.23,438.57 95.30,438.10 96.50,438.20C97.70,438.30 101.08,437.87 102.00,437.80 Z"/></clipPath></defs>
<path d="M22.50,437.80C27.83,437.88 48.67,438.33 54.50,438.30C60.33,438.27 56.55,437.95 57.50,437.60C58.45,437.25 59.45,436.77 60.20,436.20C60.95,435.63 61.47,435.07 62.00,434.20C62.53,433.33 63.03,432.53 63.40,431.00C63.77,429.47 63.95,427.08 64.20,425.00C64.45,422.92 64.62,420.37 64.90,418.50C65.18,416.63 65.60,414.13 65.90,413.80C66.20,413.47 66.47,415.75 66.70,416.50C66.93,417.25 67.05,418.88 67.30,418.30C67.55,417.72 67.78,414.98 68.20,413.00C68.62,411.02 69.38,406.90 69.80,406.40C70.22,405.90 70.42,408.58 70.70,410.00C70.98,411.42 71.22,414.48 71.50,414.90C71.78,415.32 72.05,413.35 72.40,412.50C72.75,411.65 73.27,409.55 73.60,409.80C73.93,410.05 74.13,412.43 74.40,414.00C74.67,415.57 74.90,419.37 75.20,419.20C75.50,419.03 75.77,414.77 76.20,413.00C76.63,411.23 77.37,408.60 77.80,408.60C78.23,408.60 78.48,411.38 78.80,413.00C79.12,414.62 79.40,417.80 79.70,418.30C80.00,418.80 80.27,416.57 80.60,416.00C80.93,415.43 81.27,414.32 81.70,414.90C82.13,415.48 82.58,418.08 83.20,419.50C83.82,420.92 84.77,422.90 85.40,423.40C86.03,423.90 86.57,424.40 87.00,422.50C87.43,420.60 87.65,416.87 88.00,412.00C88.35,407.13 88.78,399.47 89.10,393.30C89.42,387.13 89.65,378.97 89.90,375.00C90.15,371.03 90.37,369.50 90.60,369.50C90.83,369.50 91.03,371.03 91.30,375.00C91.57,378.97 91.90,386.47 92.20,393.30C92.50,400.13 92.82,409.88 93.10,416.00C93.38,422.12 93.62,426.47 93.90,430.00C94.18,433.53 94.37,435.83 94.80,437.20C95.23,438.57 95.30,438.10 96.50,438.20C97.70,438.30 101.08,437.87 102.00,437.80 Z" fill="url(#hg1)" stroke="none"/>
<path d="M65.9,363.2V438.4M69.8,363.2V438.4M73.6,363.2V438.4M77.8,363.2V438.4M81.7,363.2V438.4M85.4,363.2V438.4M90.6,363.2V438.4" stroke="#e4fae0" stroke-width="0.8" opacity="0.55" clip-path="url(#hc1)"/>
<path d="M22.50,437.80C27.83,437.88 48.67,438.33 54.50,438.30C60.33,438.27 56.55,437.95 57.50,437.60C58.45,437.25 59.45,436.77 60.20,436.20C60.95,435.63 61.47,435.07 62.00,434.20C62.53,433.33 63.03,432.53 63.40,431.00C63.77,429.47 63.95,427.08 64.20,425.00C64.45,422.92 64.62,420.37 64.90,418.50C65.18,416.63 65.60,414.13 65.90,413.80C66.20,413.47 66.47,415.75 66.70,416.50C66.93,417.25 67.05,418.88 67.30,418.30C67.55,417.72 67.78,414.98 68.20,413.00C68.62,411.02 69.38,406.90 69.80,406.40C70.22,405.90 70.42,408.58 70.70,410.00C70.98,411.42 71.22,414.48 71.50,414.90C71.78,415.32 72.05,413.35 72.40,412.50C72.75,411.65 73.27,409.55 73.60,409.80C73.93,410.05 74.13,412.43 74.40,414.00C74.67,415.57 74.90,419.37 75.20,419.20C75.50,419.03 75.77,414.77 76.20,413.00C76.63,411.23 77.37,408.60 77.80,408.60C78.23,408.60 78.48,411.38 78.80,413.00C79.12,414.62 79.40,417.80 79.70,418.30C80.00,418.80 80.27,416.57 80.60,416.00C80.93,415.43 81.27,414.32 81.70,414.90C82.13,415.48 82.58,418.08 83.20,419.50C83.82,420.92 84.77,422.90 85.40,423.40C86.03,423.90 86.57,424.40 87.00,422.50C87.43,420.60 87.65,416.87 88.00,412.00C88.35,407.13 88.78,399.47 89.10,393.30C89.42,387.13 89.65,378.97 89.90,375.00C90.15,371.03 90.37,369.50 90.60,369.50C90.83,369.50 91.03,371.03 91.30,375.00C91.57,378.97 91.90,386.47 92.20,393.30C92.50,400.13 92.82,409.88 93.10,416.00C93.38,422.12 93.62,426.47 93.90,430.00C94.18,433.53 94.37,435.83 94.80,437.20C95.23,438.57 95.30,438.10 96.50,438.20C97.70,438.30 101.08,437.87 102.00,437.80" fill="none" stroke="#437a45" stroke-width="1.0" stroke-linejoin="round"/>
<line x1="21.5" y1="438.4" x2="103.0" y2="438.4" stroke="#8a8a8a" stroke-width="1.2" />
<line x1="20.0" y1="438.4" x2="21.5" y2="438.4" stroke="#aaa" stroke-width="0.6" />
<rect x="17.0" y="437.8" width="2.5" height="1.2" fill="#cfcfcf"/>
<line x1="20.0" y1="424.6" x2="21.5" y2="424.6" stroke="#aaa" stroke-width="0.6" />
<rect x="17.0" y="424.0" width="2.5" height="1.2" fill="#cfcfcf"/>
<line x1="20.0" y1="410.7" x2="21.5" y2="410.7" stroke="#aaa" stroke-width="0.6" />
<rect x="17.0" y="410.1" width="2.5" height="1.2" fill="#cfcfcf"/>
<line x1="20.0" y1="396.9" x2="21.5" y2="396.9" stroke="#aaa" stroke-width="0.6" />
<rect x="17.0" y="396.3" width="2.5" height="1.2" fill="#cfcfcf"/>
<line x1="20.0" y1="383.0" x2="21.5" y2="383.0" stroke="#aaa" stroke-width="0.6" />
<rect x="17.0" y="382.4" width="2.5" height="1.2" fill="#cfcfcf"/>
<line x1="20.0" y1="369.2" x2="21.5" y2="369.2" stroke="#aaa" stroke-width="0.6" />
<rect x="17.0" y="368.6" width="2.5" height="1.2" fill="#cfcfcf"/>
<line x1="24.5" y1="438.4" x2="24.5" y2="439.9" stroke="#aaa" stroke-width="0.6" />
<rect x="23.3" y="441.4" width="2.4" height="1.0" fill="#d4d4d4"/>
<line x1="37.1" y1="438.4" x2="37.1" y2="439.9" stroke="#aaa" stroke-width="0.6" />
<rect x="35.9" y="441.4" width="2.4" height="1.0" fill="#d4d4d4"/>
<line x1="49.7" y1="438.4" x2="49.7" y2="439.9" stroke="#aaa" stroke-width="0.6" />
<rect x="48.5" y="441.4" width="2.4" height="1.0" fill="#d4d4d4"/>
<line x1="62.2" y1="438.4" x2="62.2" y2="439.9" stroke="#aaa" stroke-width="0.6" />
<rect x="61.0" y="441.4" width="2.4" height="1.0" fill="#d4d4d4"/>
<line x1="74.8" y1="438.4" x2="74.8" y2="439.9" stroke="#aaa" stroke-width="0.6" />
<rect x="73.6" y="441.4" width="2.4" height="1.0" fill="#d4d4d4"/>
<line x1="87.4" y1="438.4" x2="87.4" y2="439.9" stroke="#aaa" stroke-width="0.6" />
<rect x="86.2" y="441.4" width="2.4" height="1.0" fill="#d4d4d4"/>
<line x1="100.0" y1="438.4" x2="100.0" y2="439.9" stroke="#aaa" stroke-width="0.6" />
<rect x="98.8" y="441.4" width="2.4" height="1.0" fill="#d4d4d4"/>
<rect x="54.2" y="445.4" width="16" height="1.0" fill="#cdd3c6"/>
<rect x="12.0" y="398.8" width="1.0" height="4" fill="#cfcfcf"/>
<text x="60.7" y="455.1" font-size="8.8" text-anchor="middle" font-weight="normal" fill="#1a1a1a" stroke="#1a1a1a" stroke-width="0.18" >control</text>
<rect x="123.7" y="364.4" width="76.6" height="72.7" fill="#fff" stroke="#c8c8c8" stroke-width="0.9"/>
<defs><linearGradient id="hg2" gradientUnits="userSpaceOnUse" x1="0" y1="368.4" x2="0" y2="437.1"><stop offset="0" stop-color="#d6f7cf"/><stop offset="0.55" stop-color="#a2f09a"/><stop offset="0.82" stop-color="#68ea64"/><stop offset="1" stop-color="#40e640"/></linearGradient><clipPath id="hc2"><path d="M124.70,436.50C129.67,436.62 148.95,437.20 154.50,437.20C160.05,437.20 156.95,436.92 158.00,436.50C159.05,436.08 160.05,435.37 160.80,434.70C161.55,434.03 162.03,433.35 162.50,432.50C162.97,431.65 163.28,431.02 163.60,429.60C163.92,428.18 164.13,425.85 164.40,424.00C164.67,422.15 164.87,420.17 165.20,418.50C165.53,416.83 166.10,414.42 166.40,414.00C166.70,413.58 166.80,415.38 167.00,416.00C167.20,416.62 167.37,418.03 167.60,417.70C167.83,417.37 168.07,415.22 168.40,414.00C168.73,412.78 169.23,410.23 169.60,410.40C169.97,410.57 170.28,413.33 170.60,415.00C170.92,416.67 171.20,419.98 171.50,420.40C171.80,420.82 172.07,418.42 172.40,417.50C172.73,416.58 173.17,414.90 173.50,414.90C173.83,414.90 174.12,416.58 174.40,417.50C174.68,418.42 174.88,420.57 175.20,420.40C175.52,420.23 175.90,417.60 176.30,416.50C176.70,415.40 177.22,413.63 177.60,413.80C177.98,413.97 178.28,416.30 178.60,417.50C178.92,418.70 179.18,420.75 179.50,421.00C179.82,421.25 180.17,419.60 180.50,419.00C180.83,418.40 181.05,417.15 181.50,417.40C181.95,417.65 182.60,419.50 183.20,420.50C183.80,421.50 184.53,423.15 185.10,423.40C185.67,423.65 186.20,423.40 186.60,422.00C187.00,420.60 187.18,418.83 187.50,415.00C187.82,411.17 188.18,404.83 188.50,399.00C188.82,393.17 189.12,384.82 189.40,380.00C189.68,375.18 189.93,370.60 190.20,370.10C190.47,369.60 190.75,374.07 191.00,377.00C191.25,379.93 191.47,383.03 191.70,387.70C191.93,392.37 192.20,399.33 192.40,405.00C192.60,410.67 192.68,417.37 192.90,421.70C193.12,426.03 193.45,428.58 193.70,431.00C193.95,433.42 194.02,435.20 194.40,436.20C194.78,437.20 195.18,436.95 196.00,437.00C196.82,437.05 198.75,436.58 199.30,436.50 Z"/></clipPath></defs>
<path d="M124.70,436.50C129.67,436.62 148.95,437.20 154.50,437.20C160.05,437.20 156.95,436.92 158.00,436.50C159.05,436.08 160.05,435.37 160.80,434.70C161.55,434.03 162.03,433.35 162.50,432.50C162.97,431.65 163.28,431.02 163.60,429.60C163.92,428.18 164.13,425.85 164.40,424.00C164.67,422.15 164.87,420.17 165.20,418.50C165.53,416.83 166.10,414.42 166.40,414.00C166.70,413.58 166.80,415.38 167.00,416.00C167.20,416.62 167.37,418.03 167.60,417.70C167.83,417.37 168.07,415.22 168.40,414.00C168.73,412.78 169.23,410.23 169.60,410.40C169.97,410.57 170.28,413.33 170.60,415.00C170.92,416.67 171.20,419.98 171.50,420.40C171.80,420.82 172.07,418.42 172.40,417.50C172.73,416.58 173.17,414.90 173.50,414.90C173.83,414.90 174.12,416.58 174.40,417.50C174.68,418.42 174.88,420.57 175.20,420.40C175.52,420.23 175.90,417.60 176.30,416.50C176.70,415.40 177.22,413.63 177.60,413.80C177.98,413.97 178.28,416.30 178.60,417.50C178.92,418.70 179.18,420.75 179.50,421.00C179.82,421.25 180.17,419.60 180.50,419.00C180.83,418.40 181.05,417.15 181.50,417.40C181.95,417.65 182.60,419.50 183.20,420.50C183.80,421.50 184.53,423.15 185.10,423.40C185.67,423.65 186.20,423.40 186.60,422.00C187.00,420.60 187.18,418.83 187.50,415.00C187.82,411.17 188.18,404.83 188.50,399.00C188.82,393.17 189.12,384.82 189.40,380.00C189.68,375.18 189.93,370.60 190.20,370.10C190.47,369.60 190.75,374.07 191.00,377.00C191.25,379.93 191.47,383.03 191.70,387.70C191.93,392.37 192.20,399.33 192.40,405.00C192.60,410.67 192.68,417.37 192.90,421.70C193.12,426.03 193.45,428.58 193.70,431.00C193.95,433.42 194.02,435.20 194.40,436.20C194.78,437.20 195.18,436.95 196.00,437.00C196.82,437.05 198.75,436.58 199.30,436.50 Z" fill="url(#hg2)" stroke="none"/>
<path d="M166.4,364.4V437.1M169.6,364.4V437.1M173.5,364.4V437.1M177.6,364.4V437.1M181.5,364.4V437.1M185.1,364.4V437.1M190.2,364.4V437.1" stroke="#e4fae0" stroke-width="0.8" opacity="0.55" clip-path="url(#hc2)"/>
<path d="M124.70,436.50C129.67,436.62 148.95,437.20 154.50,437.20C160.05,437.20 156.95,436.92 158.00,436.50C159.05,436.08 160.05,435.37 160.80,434.70C161.55,434.03 162.03,433.35 162.50,432.50C162.97,431.65 163.28,431.02 163.60,429.60C163.92,428.18 164.13,425.85 164.40,424.00C164.67,422.15 164.87,420.17 165.20,418.50C165.53,416.83 166.10,414.42 166.40,414.00C166.70,413.58 166.80,415.38 167.00,416.00C167.20,416.62 167.37,418.03 167.60,417.70C167.83,417.37 168.07,415.22 168.40,414.00C168.73,412.78 169.23,410.23 169.60,410.40C169.97,410.57 170.28,413.33 170.60,415.00C170.92,416.67 171.20,419.98 171.50,420.40C171.80,420.82 172.07,418.42 172.40,417.50C172.73,416.58 173.17,414.90 173.50,414.90C173.83,414.90 174.12,416.58 174.40,417.50C174.68,418.42 174.88,420.57 175.20,420.40C175.52,420.23 175.90,417.60 176.30,416.50C176.70,415.40 177.22,413.63 177.60,413.80C177.98,413.97 178.28,416.30 178.60,417.50C178.92,418.70 179.18,420.75 179.50,421.00C179.82,421.25 180.17,419.60 180.50,419.00C180.83,418.40 181.05,417.15 181.50,417.40C181.95,417.65 182.60,419.50 183.20,420.50C183.80,421.50 184.53,423.15 185.10,423.40C185.67,423.65 186.20,423.40 186.60,422.00C187.00,420.60 187.18,418.83 187.50,415.00C187.82,411.17 188.18,404.83 188.50,399.00C188.82,393.17 189.12,384.82 189.40,380.00C189.68,375.18 189.93,370.60 190.20,370.10C190.47,369.60 190.75,374.07 191.00,377.00C191.25,379.93 191.47,383.03 191.70,387.70C191.93,392.37 192.20,399.33 192.40,405.00C192.60,410.67 192.68,417.37 192.90,421.70C193.12,426.03 193.45,428.58 193.70,431.00C193.95,433.42 194.02,435.20 194.40,436.20C194.78,437.20 195.18,436.95 196.00,437.00C196.82,437.05 198.75,436.58 199.30,436.50" fill="none" stroke="#437a45" stroke-width="1.0" stroke-linejoin="round"/>
<line x1="123.7" y1="437.1" x2="200.3" y2="437.1" stroke="#8a8a8a" stroke-width="1.2" />
<line x1="122.2" y1="437.1" x2="123.7" y2="437.1" stroke="#aaa" stroke-width="0.6" />
<rect x="119.2" y="436.5" width="2.5" height="1.2" fill="#cfcfcf"/>
<line x1="122.2" y1="423.8" x2="123.7" y2="423.8" stroke="#aaa" stroke-width="0.6" />
<rect x="119.2" y="423.2" width="2.5" height="1.2" fill="#cfcfcf"/>
<line x1="122.2" y1="410.4" x2="123.7" y2="410.4" stroke="#aaa" stroke-width="0.6" />
<rect x="119.2" y="409.8" width="2.5" height="1.2" fill="#cfcfcf"/>
<line x1="122.2" y1="397.1" x2="123.7" y2="397.1" stroke="#aaa" stroke-width="0.6" />
<rect x="119.2" y="396.5" width="2.5" height="1.2" fill="#cfcfcf"/>
<line x1="122.2" y1="383.7" x2="123.7" y2="383.7" stroke="#aaa" stroke-width="0.6" />
<rect x="119.2" y="383.1" width="2.5" height="1.2" fill="#cfcfcf"/>
<line x1="122.2" y1="370.4" x2="123.7" y2="370.4" stroke="#aaa" stroke-width="0.6" />
<rect x="119.2" y="369.8" width="2.5" height="1.2" fill="#cfcfcf"/>
<line x1="126.7" y1="437.1" x2="126.7" y2="438.6" stroke="#aaa" stroke-width="0.6" />
<rect x="125.5" y="440.1" width="2.4" height="1.0" fill="#d4d4d4"/>
<line x1="138.5" y1="437.1" x2="138.5" y2="438.6" stroke="#aaa" stroke-width="0.6" />
<rect x="137.3" y="440.1" width="2.4" height="1.0" fill="#d4d4d4"/>
<line x1="150.2" y1="437.1" x2="150.2" y2="438.6" stroke="#aaa" stroke-width="0.6" />
<rect x="149.0" y="440.1" width="2.4" height="1.0" fill="#d4d4d4"/>
<line x1="162.0" y1="437.1" x2="162.0" y2="438.6" stroke="#aaa" stroke-width="0.6" />
<rect x="160.8" y="440.1" width="2.4" height="1.0" fill="#d4d4d4"/>
<line x1="173.8" y1="437.1" x2="173.8" y2="438.6" stroke="#aaa" stroke-width="0.6" />
<rect x="172.6" y="440.1" width="2.4" height="1.0" fill="#d4d4d4"/>
<line x1="185.5" y1="437.1" x2="185.5" y2="438.6" stroke="#aaa" stroke-width="0.6" />
<rect x="184.3" y="440.1" width="2.4" height="1.0" fill="#d4d4d4"/>
<line x1="197.3" y1="437.1" x2="197.3" y2="438.6" stroke="#aaa" stroke-width="0.6" />
<rect x="196.1" y="440.1" width="2.4" height="1.0" fill="#d4d4d4"/>
<rect x="154.0" y="444.1" width="16" height="1.0" fill="#cdd3c6"/>
<rect x="114.2" y="398.8" width="1.0" height="4" fill="#cfcfcf"/>
<text x="163.0" y="454.9" font-size="8.8" text-anchor="middle" font-weight="normal" fill="#1a1a1a" stroke="#1a1a1a" stroke-width="0.18" >control+Dec</text>
<rect x="223.3" y="363.1" width="80.8" height="74.3" fill="#fff" stroke="#c8c8c8" stroke-width="0.9"/>
<defs><linearGradient id="hg3" gradientUnits="userSpaceOnUse" x1="0" y1="367.1" x2="0" y2="437.4"><stop offset="0" stop-color="#d6f7cf"/><stop offset="0.55" stop-color="#a2f09a"/><stop offset="0.82" stop-color="#68ea64"/><stop offset="1" stop-color="#40e640"/></linearGradient><clipPath id="hc3"><path d="M224.30,436.80C229.62,436.87 250.50,437.30 256.20,437.20C261.90,437.10 257.83,436.70 258.50,436.20C259.17,435.70 259.57,434.98 260.20,434.20C260.83,433.42 261.63,432.55 262.30,431.50C262.97,430.45 263.63,429.48 264.20,427.90C264.77,426.32 265.23,424.17 265.70,422.00C266.17,419.83 266.60,417.32 267.00,414.90C267.40,412.48 267.73,409.07 268.10,407.50C268.47,405.93 268.85,405.97 269.20,405.50C269.55,405.03 269.90,406.17 270.20,404.70C270.50,403.23 270.72,400.15 271.00,396.70C271.28,393.25 271.63,385.70 271.90,384.00C272.17,382.30 272.38,385.70 272.60,386.50C272.82,387.30 272.95,387.47 273.20,388.80C273.45,390.13 273.80,394.97 274.10,394.50C274.40,394.03 274.70,389.12 275.00,386.00C275.30,382.88 275.63,376.13 275.90,375.80C276.17,375.47 276.38,381.08 276.60,384.00C276.82,386.92 276.95,390.62 277.20,393.30C277.45,395.98 277.80,399.98 278.10,400.10C278.40,400.22 278.68,395.98 279.00,394.00C279.32,392.02 279.72,388.53 280.00,388.20C280.28,387.87 280.50,390.58 280.70,392.00C280.90,393.42 280.90,393.93 281.20,396.70C281.50,399.47 282.17,407.13 282.50,408.60C282.83,410.07 282.98,406.43 283.20,405.50C283.42,404.57 283.50,402.42 283.80,403.00C284.10,403.58 284.62,406.92 285.00,409.00C285.38,411.08 285.70,415.65 286.10,415.50C286.50,415.35 286.98,410.02 287.40,408.10C287.82,406.18 288.22,405.52 288.60,404.00C288.98,402.48 289.33,402.17 289.70,399.00C290.07,395.83 290.50,389.00 290.80,385.00C291.10,381.00 291.27,377.30 291.50,375.00C291.73,372.70 291.95,370.87 292.20,371.20C292.45,371.53 292.75,374.25 293.00,377.00C293.25,379.75 293.47,383.03 293.70,387.70C293.93,392.37 294.17,398.95 294.40,405.00C294.63,411.05 294.83,419.42 295.10,424.00C295.37,428.58 295.73,430.43 296.00,432.50C296.27,434.57 296.33,435.58 296.70,436.40C297.07,437.22 297.13,437.33 298.20,437.40C299.27,437.47 302.28,436.90 303.10,436.80 Z"/></clipPath></defs>
<path d="M224.30,436.80C229.62,436.87 250.50,437.30 256.20,437.20C261.90,437.10 257.83,436.70 258.50,436.20C259.17,435.70 259.57,434.98 260.20,434.20C260.83,433.42 261.63,432.55 262.30,431.50C262.97,430.45 263.63,429.48 264.20,427.90C264.77,426.32 265.23,424.17 265.70,422.00C266.17,419.83 266.60,417.32 267.00,414.90C267.40,412.48 267.73,409.07 268.10,407.50C268.47,405.93 268.85,405.97 269.20,405.50C269.55,405.03 269.90,406.17 270.20,404.70C270.50,403.23 270.72,400.15 271.00,396.70C271.28,393.25 271.63,385.70 271.90,384.00C272.17,382.30 272.38,385.70 272.60,386.50C272.82,387.30 272.95,387.47 273.20,388.80C273.45,390.13 273.80,394.97 274.10,394.50C274.40,394.03 274.70,389.12 275.00,386.00C275.30,382.88 275.63,376.13 275.90,375.80C276.17,375.47 276.38,381.08 276.60,384.00C276.82,386.92 276.95,390.62 277.20,393.30C277.45,395.98 277.80,399.98 278.10,400.10C278.40,400.22 278.68,395.98 279.00,394.00C279.32,392.02 279.72,388.53 280.00,388.20C280.28,387.87 280.50,390.58 280.70,392.00C280.90,393.42 280.90,393.93 281.20,396.70C281.50,399.47 282.17,407.13 282.50,408.60C282.83,410.07 282.98,406.43 283.20,405.50C283.42,404.57 283.50,402.42 283.80,403.00C284.10,403.58 284.62,406.92 285.00,409.00C285.38,411.08 285.70,415.65 286.10,415.50C286.50,415.35 286.98,410.02 287.40,408.10C287.82,406.18 288.22,405.52 288.60,404.00C288.98,402.48 289.33,402.17 289.70,399.00C290.07,395.83 290.50,389.00 290.80,385.00C291.10,381.00 291.27,377.30 291.50,375.00C291.73,372.70 291.95,370.87 292.20,371.20C292.45,371.53 292.75,374.25 293.00,377.00C293.25,379.75 293.47,383.03 293.70,387.70C293.93,392.37 294.17,398.95 294.40,405.00C294.63,411.05 294.83,419.42 295.10,424.00C295.37,428.58 295.73,430.43 296.00,432.50C296.27,434.57 296.33,435.58 296.70,436.40C297.07,437.22 297.13,437.33 298.20,437.40C299.27,437.47 302.28,436.90 303.10,436.80 Z" fill="url(#hg3)" stroke="none"/>
<path d="M267.0,363.1V437.4M271.9,363.1V437.4M275.9,363.1V437.4M280.0,363.1V437.4M283.8,363.1V437.4M287.4,363.1V437.4M292.2,363.1V437.4" stroke="#e4fae0" stroke-width="0.8" opacity="0.55" clip-path="url(#hc3)"/>
<path d="M224.30,436.80C229.62,436.87 250.50,437.30 256.20,437.20C261.90,437.10 257.83,436.70 258.50,436.20C259.17,435.70 259.57,434.98 260.20,434.20C260.83,433.42 261.63,432.55 262.30,431.50C262.97,430.45 263.63,429.48 264.20,427.90C264.77,426.32 265.23,424.17 265.70,422.00C266.17,419.83 266.60,417.32 267.00,414.90C267.40,412.48 267.73,409.07 268.10,407.50C268.47,405.93 268.85,405.97 269.20,405.50C269.55,405.03 269.90,406.17 270.20,404.70C270.50,403.23 270.72,400.15 271.00,396.70C271.28,393.25 271.63,385.70 271.90,384.00C272.17,382.30 272.38,385.70 272.60,386.50C272.82,387.30 272.95,387.47 273.20,388.80C273.45,390.13 273.80,394.97 274.10,394.50C274.40,394.03 274.70,389.12 275.00,386.00C275.30,382.88 275.63,376.13 275.90,375.80C276.17,375.47 276.38,381.08 276.60,384.00C276.82,386.92 276.95,390.62 277.20,393.30C277.45,395.98 277.80,399.98 278.10,400.10C278.40,400.22 278.68,395.98 279.00,394.00C279.32,392.02 279.72,388.53 280.00,388.20C280.28,387.87 280.50,390.58 280.70,392.00C280.90,393.42 280.90,393.93 281.20,396.70C281.50,399.47 282.17,407.13 282.50,408.60C282.83,410.07 282.98,406.43 283.20,405.50C283.42,404.57 283.50,402.42 283.80,403.00C284.10,403.58 284.62,406.92 285.00,409.00C285.38,411.08 285.70,415.65 286.10,415.50C286.50,415.35 286.98,410.02 287.40,408.10C287.82,406.18 288.22,405.52 288.60,404.00C288.98,402.48 289.33,402.17 289.70,399.00C290.07,395.83 290.50,389.00 290.80,385.00C291.10,381.00 291.27,377.30 291.50,375.00C291.73,372.70 291.95,370.87 292.20,371.20C292.45,371.53 292.75,374.25 293.00,377.00C293.25,379.75 293.47,383.03 293.70,387.70C293.93,392.37 294.17,398.95 294.40,405.00C294.63,411.05 294.83,419.42 295.10,424.00C295.37,428.58 295.73,430.43 296.00,432.50C296.27,434.57 296.33,435.58 296.70,436.40C297.07,437.22 297.13,437.33 298.20,437.40C299.27,437.47 302.28,436.90 303.10,436.80" fill="none" stroke="#437a45" stroke-width="1.0" stroke-linejoin="round"/>
<line x1="223.3" y1="437.4" x2="304.1" y2="437.4" stroke="#8a8a8a" stroke-width="1.2" />
<line x1="221.8" y1="437.4" x2="223.3" y2="437.4" stroke="#aaa" stroke-width="0.6" />
<rect x="218.8" y="436.8" width="2.5" height="1.2" fill="#cfcfcf"/>
<line x1="221.8" y1="423.7" x2="223.3" y2="423.7" stroke="#aaa" stroke-width="0.6" />
<rect x="218.8" y="423.1" width="2.5" height="1.2" fill="#cfcfcf"/>
<line x1="221.8" y1="410.1" x2="223.3" y2="410.1" stroke="#aaa" stroke-width="0.6" />
<rect x="218.8" y="409.5" width="2.5" height="1.2" fill="#cfcfcf"/>
<line x1="221.8" y1="396.4" x2="223.3" y2="396.4" stroke="#aaa" stroke-width="0.6" />
<rect x="218.8" y="395.8" width="2.5" height="1.2" fill="#cfcfcf"/>
<line x1="221.8" y1="382.8" x2="223.3" y2="382.8" stroke="#aaa" stroke-width="0.6" />
<rect x="218.8" y="382.2" width="2.5" height="1.2" fill="#cfcfcf"/>
<line x1="221.8" y1="369.1" x2="223.3" y2="369.1" stroke="#aaa" stroke-width="0.6" />
<rect x="218.8" y="368.5" width="2.5" height="1.2" fill="#cfcfcf"/>
<line x1="226.3" y1="437.4" x2="226.3" y2="438.9" stroke="#aaa" stroke-width="0.6" />
<rect x="225.1" y="440.4" width="2.4" height="1.0" fill="#d4d4d4"/>
<line x1="238.8" y1="437.4" x2="238.8" y2="438.9" stroke="#aaa" stroke-width="0.6" />
<rect x="237.6" y="440.4" width="2.4" height="1.0" fill="#d4d4d4"/>
<line x1="251.2" y1="437.4" x2="251.2" y2="438.9" stroke="#aaa" stroke-width="0.6" />
<rect x="250.0" y="440.4" width="2.4" height="1.0" fill="#d4d4d4"/>
<line x1="263.7" y1="437.4" x2="263.7" y2="438.9" stroke="#aaa" stroke-width="0.6" />
<rect x="262.5" y="440.4" width="2.4" height="1.0" fill="#d4d4d4"/>
<line x1="276.2" y1="437.4" x2="276.2" y2="438.9" stroke="#aaa" stroke-width="0.6" />
<rect x="275.0" y="440.4" width="2.4" height="1.0" fill="#d4d4d4"/>
<line x1="288.6" y1="437.4" x2="288.6" y2="438.9" stroke="#aaa" stroke-width="0.6" />
<rect x="287.4" y="440.4" width="2.4" height="1.0" fill="#d4d4d4"/>
<line x1="301.1" y1="437.4" x2="301.1" y2="438.9" stroke="#aaa" stroke-width="0.6" />
<rect x="299.9" y="440.4" width="2.4" height="1.0" fill="#d4d4d4"/>
<rect x="255.7" y="444.4" width="16" height="1.0" fill="#cdd3c6"/>
<rect x="213.8" y="398.2" width="1.0" height="4" fill="#cfcfcf"/>
<text x="262.0" y="456.1" font-size="8.8" text-anchor="middle" font-weight="normal" fill="#1a1a1a" stroke="#1a1a1a" stroke-width="0.18" >ITP</text>
<rect x="324.1" y="361.5" width="79.2" height="75.7" fill="#fff" stroke="#c8c8c8" stroke-width="0.9"/>
<defs><linearGradient id="hg4" gradientUnits="userSpaceOnUse" x1="0" y1="365.5" x2="0" y2="437.2"><stop offset="0" stop-color="#d6f7cf"/><stop offset="0.55" stop-color="#a2f09a"/><stop offset="0.82" stop-color="#68ea64"/><stop offset="1" stop-color="#40e640"/></linearGradient><clipPath id="hc4"><path d="M325.10,436.60C330.48,436.58 351.67,436.80 357.40,436.50C363.13,436.20 358.85,435.50 359.50,434.80C360.15,434.10 360.73,433.35 361.30,432.30C361.87,431.25 362.42,430.02 362.90,428.50C363.38,426.98 363.70,425.40 364.20,423.20C364.70,421.00 365.43,417.93 365.90,415.30C366.37,412.67 366.67,410.15 367.00,407.40C367.33,404.65 367.63,399.95 367.90,398.80C368.17,397.65 368.37,399.83 368.60,400.50C368.83,401.17 369.03,401.65 369.30,402.80C369.57,403.95 369.88,407.87 370.20,407.40C370.52,406.93 370.88,401.90 371.20,400.00C371.52,398.10 371.85,395.83 372.10,396.00C372.35,396.17 372.52,399.10 372.70,401.00C372.88,402.90 373.02,405.77 373.20,407.40C373.38,409.03 373.50,411.03 373.80,410.80C374.10,410.57 374.62,407.23 375.00,406.00C375.38,404.77 375.77,403.07 376.10,403.40C376.43,403.73 376.72,406.58 377.00,408.00C377.28,409.42 377.52,410.98 377.80,411.90C378.08,412.82 378.42,413.12 378.70,413.50C378.98,413.88 379.25,413.70 379.50,414.20C379.75,414.70 379.98,415.75 380.20,416.50C380.42,417.25 380.45,417.95 380.80,418.70C381.15,419.45 381.87,420.25 382.30,421.00C382.73,421.75 382.95,422.43 383.40,423.20C383.85,423.97 384.52,424.93 385.00,425.60C385.48,426.27 385.88,427.30 386.30,427.20C386.72,427.10 387.13,426.03 387.50,425.00C387.87,423.97 388.18,423.50 388.50,421.00C388.82,418.50 389.12,414.17 389.40,410.00C389.68,405.83 389.92,401.33 390.20,396.00C390.48,390.67 390.80,382.63 391.10,378.00C391.40,373.37 391.73,368.37 392.00,368.20C392.27,368.03 392.47,373.32 392.70,377.00C392.93,380.68 393.15,384.30 393.40,390.30C393.65,396.30 393.92,406.38 394.20,413.00C394.48,419.62 394.72,426.22 395.10,430.00C395.48,433.78 396.02,434.57 396.50,435.70C396.98,436.83 397.03,436.65 398.00,436.80C398.97,436.95 401.58,436.63 402.30,436.60 Z"/></clipPath></defs>
<path d="M325.10,436.60C330.48,436.58 351.67,436.80 357.40,436.50C363.13,436.20 358.85,435.50 359.50,434.80C360.15,434.10 360.73,433.35 361.30,432.30C361.87,431.25 362.42,430.02 362.90,428.50C363.38,426.98 363.70,425.40 364.20,423.20C364.70,421.00 365.43,417.93 365.90,415.30C366.37,412.67 366.67,410.15 367.00,407.40C367.33,404.65 367.63,399.95 367.90,398.80C368.17,397.65 368.37,399.83 368.60,400.50C368.83,401.17 369.03,401.65 369.30,402.80C369.57,403.95 369.88,407.87 370.20,407.40C370.52,406.93 370.88,401.90 371.20,400.00C371.52,398.10 371.85,395.83 372.10,396.00C372.35,396.17 372.52,399.10 372.70,401.00C372.88,402.90 373.02,405.77 373.20,407.40C373.38,409.03 373.50,411.03 373.80,410.80C374.10,410.57 374.62,407.23 375.00,406.00C375.38,404.77 375.77,403.07 376.10,403.40C376.43,403.73 376.72,406.58 377.00,408.00C377.28,409.42 377.52,410.98 377.80,411.90C378.08,412.82 378.42,413.12 378.70,413.50C378.98,413.88 379.25,413.70 379.50,414.20C379.75,414.70 379.98,415.75 380.20,416.50C380.42,417.25 380.45,417.95 380.80,418.70C381.15,419.45 381.87,420.25 382.30,421.00C382.73,421.75 382.95,422.43 383.40,423.20C383.85,423.97 384.52,424.93 385.00,425.60C385.48,426.27 385.88,427.30 386.30,427.20C386.72,427.10 387.13,426.03 387.50,425.00C387.87,423.97 388.18,423.50 388.50,421.00C388.82,418.50 389.12,414.17 389.40,410.00C389.68,405.83 389.92,401.33 390.20,396.00C390.48,390.67 390.80,382.63 391.10,378.00C391.40,373.37 391.73,368.37 392.00,368.20C392.27,368.03 392.47,373.32 392.70,377.00C392.93,380.68 393.15,384.30 393.40,390.30C393.65,396.30 393.92,406.38 394.20,413.00C394.48,419.62 394.72,426.22 395.10,430.00C395.48,433.78 396.02,434.57 396.50,435.70C396.98,436.83 397.03,436.65 398.00,436.80C398.97,436.95 401.58,436.63 402.30,436.60 Z" fill="url(#hg4)" stroke="none"/>
<path d="M364.2,361.5V437.2M367.9,361.5V437.2M372.1,361.5V437.2M376.1,361.5V437.2M379.5,361.5V437.2M383.4,361.5V437.2M386.3,361.5V437.2M392.0,361.5V437.2" stroke="#e4fae0" stroke-width="0.8" opacity="0.55" clip-path="url(#hc4)"/>
<path d="M325.10,436.60C330.48,436.58 351.67,436.80 357.40,436.50C363.13,436.20 358.85,435.50 359.50,434.80C360.15,434.10 360.73,433.35 361.30,432.30C361.87,431.25 362.42,430.02 362.90,428.50C363.38,426.98 363.70,425.40 364.20,423.20C364.70,421.00 365.43,417.93 365.90,415.30C366.37,412.67 366.67,410.15 367.00,407.40C367.33,404.65 367.63,399.95 367.90,398.80C368.17,397.65 368.37,399.83 368.60,400.50C368.83,401.17 369.03,401.65 369.30,402.80C369.57,403.95 369.88,407.87 370.20,407.40C370.52,406.93 370.88,401.90 371.20,400.00C371.52,398.10 371.85,395.83 372.10,396.00C372.35,396.17 372.52,399.10 372.70,401.00C372.88,402.90 373.02,405.77 373.20,407.40C373.38,409.03 373.50,411.03 373.80,410.80C374.10,410.57 374.62,407.23 375.00,406.00C375.38,404.77 375.77,403.07 376.10,403.40C376.43,403.73 376.72,406.58 377.00,408.00C377.28,409.42 377.52,410.98 377.80,411.90C378.08,412.82 378.42,413.12 378.70,413.50C378.98,413.88 379.25,413.70 379.50,414.20C379.75,414.70 379.98,415.75 380.20,416.50C380.42,417.25 380.45,417.95 380.80,418.70C381.15,419.45 381.87,420.25 382.30,421.00C382.73,421.75 382.95,422.43 383.40,423.20C383.85,423.97 384.52,424.93 385.00,425.60C385.48,426.27 385.88,427.30 386.30,427.20C386.72,427.10 387.13,426.03 387.50,425.00C387.87,423.97 388.18,423.50 388.50,421.00C388.82,418.50 389.12,414.17 389.40,410.00C389.68,405.83 389.92,401.33 390.20,396.00C390.48,390.67 390.80,382.63 391.10,378.00C391.40,373.37 391.73,368.37 392.00,368.20C392.27,368.03 392.47,373.32 392.70,377.00C392.93,380.68 393.15,384.30 393.40,390.30C393.65,396.30 393.92,406.38 394.20,413.00C394.48,419.62 394.72,426.22 395.10,430.00C395.48,433.78 396.02,434.57 396.50,435.70C396.98,436.83 397.03,436.65 398.00,436.80C398.97,436.95 401.58,436.63 402.30,436.60" fill="none" stroke="#437a45" stroke-width="1.0" stroke-linejoin="round"/>
<line x1="324.1" y1="437.2" x2="403.3" y2="437.2" stroke="#8a8a8a" stroke-width="1.2" />
<line x1="322.6" y1="437.2" x2="324.1" y2="437.2" stroke="#aaa" stroke-width="0.6" />
<rect x="319.6" y="436.6" width="2.5" height="1.2" fill="#cfcfcf"/>
<line x1="322.6" y1="423.3" x2="324.1" y2="423.3" stroke="#aaa" stroke-width="0.6" />
<rect x="319.6" y="422.7" width="2.5" height="1.2" fill="#cfcfcf"/>
<line x1="322.6" y1="409.3" x2="324.1" y2="409.3" stroke="#aaa" stroke-width="0.6" />
<rect x="319.6" y="408.7" width="2.5" height="1.2" fill="#cfcfcf"/>
<line x1="322.6" y1="395.4" x2="324.1" y2="395.4" stroke="#aaa" stroke-width="0.6" />
<rect x="319.6" y="394.8" width="2.5" height="1.2" fill="#cfcfcf"/>
<line x1="322.6" y1="381.4" x2="324.1" y2="381.4" stroke="#aaa" stroke-width="0.6" />
<rect x="319.6" y="380.8" width="2.5" height="1.2" fill="#cfcfcf"/>
<line x1="322.6" y1="367.5" x2="324.1" y2="367.5" stroke="#aaa" stroke-width="0.6" />
<rect x="319.6" y="366.9" width="2.5" height="1.2" fill="#cfcfcf"/>
<line x1="327.1" y1="437.2" x2="327.1" y2="438.7" stroke="#aaa" stroke-width="0.6" />
<rect x="325.9" y="440.2" width="2.4" height="1.0" fill="#d4d4d4"/>
<line x1="339.3" y1="437.2" x2="339.3" y2="438.7" stroke="#aaa" stroke-width="0.6" />
<rect x="338.1" y="440.2" width="2.4" height="1.0" fill="#d4d4d4"/>
<line x1="351.5" y1="437.2" x2="351.5" y2="438.7" stroke="#aaa" stroke-width="0.6" />
<rect x="350.3" y="440.2" width="2.4" height="1.0" fill="#d4d4d4"/>
<line x1="363.7" y1="437.2" x2="363.7" y2="438.7" stroke="#aaa" stroke-width="0.6" />
<rect x="362.5" y="440.2" width="2.4" height="1.0" fill="#d4d4d4"/>
<line x1="375.9" y1="437.2" x2="375.9" y2="438.7" stroke="#aaa" stroke-width="0.6" />
<rect x="374.7" y="440.2" width="2.4" height="1.0" fill="#d4d4d4"/>
<line x1="388.1" y1="437.2" x2="388.1" y2="438.7" stroke="#aaa" stroke-width="0.6" />
<rect x="386.9" y="440.2" width="2.4" height="1.0" fill="#d4d4d4"/>
<line x1="400.3" y1="437.2" x2="400.3" y2="438.7" stroke="#aaa" stroke-width="0.6" />
<rect x="399.1" y="440.2" width="2.4" height="1.0" fill="#d4d4d4"/>
<rect x="355.7" y="444.2" width="16" height="1.0" fill="#cdd3c6"/>
<rect x="314.6" y="397.4" width="1.0" height="4" fill="#cfcfcf"/>
<text x="365.5" y="455.7" font-size="8.8" text-anchor="middle" font-weight="normal" fill="#1a1a1a" stroke="#1a1a1a" stroke-width="0.18" >ITP+Dec</text>
<line x1="431.2" y1="360.5" x2="431.2" y2="439.5" stroke="#111" stroke-width="1.3" />
<line x1="427.7" y1="438.9" x2="514.6" y2="438.9" stroke="#111" stroke-width="1.3" />
<line x1="427.7" y1="438.9" x2="431.2" y2="438.9" stroke="#111" stroke-width="1.2" />
<text x="426.9" y="441.9" font-size="8.3" text-anchor="end" font-weight="normal" fill="#222" stroke="#222" stroke-width="0.18" >0.0</text>
<line x1="427.7" y1="419.4" x2="431.2" y2="419.4" stroke="#111" stroke-width="1.2" />
<text x="426.9" y="422.4" font-size="8.3" text-anchor="end" font-weight="normal" fill="#222" stroke="#222" stroke-width="0.18" >0.5</text>
<line x1="427.7" y1="400.0" x2="431.2" y2="400.0" stroke="#111" stroke-width="1.2" />
<text x="426.9" y="403.0" font-size="8.3" text-anchor="end" font-weight="normal" fill="#222" stroke="#222" stroke-width="0.18" >1.0</text>
<line x1="427.7" y1="380.5" x2="431.2" y2="380.5" stroke="#111" stroke-width="1.2" />
<text x="426.9" y="383.5" font-size="8.3" text-anchor="end" font-weight="normal" fill="#222" stroke="#222" stroke-width="0.18" >1.5</text>
<line x1="427.7" y1="361.1" x2="431.2" y2="361.1" stroke="#111" stroke-width="1.2" />
<text x="426.9" y="364.1" font-size="8.3" text-anchor="end" font-weight="normal" fill="#222" stroke="#222" stroke-width="0.18" >2.0</text>
<line x1="454.8" y1="438.9" x2="454.8" y2="441.9" stroke="#111" stroke-width="1.2" />
<line x1="489.7" y1="438.9" x2="489.7" y2="441.9" stroke="#111" stroke-width="1.2" />
<text x="454.8" y="447.6" font-size="8.3" text-anchor="middle" font-weight="normal" fill="#222" stroke="#222" stroke-width="0.18" >ITP</text>
<text x="494.2" y="447.6" font-size="8.3" text-anchor="middle" font-weight="normal" fill="#222" stroke="#222" stroke-width="0.18" >ITP+Dec</text>
<line x1="454.8" y1="365.8" x2="489.7" y2="410.6" stroke="#111" stroke-width="0.9" />
<line x1="454.8" y1="380.3" x2="489.7" y2="399.5" stroke="#111" stroke-width="0.9" />
<line x1="454.8" y1="381.9" x2="489.7" y2="401.5" stroke="#111" stroke-width="0.9" />
<line x1="454.8" y1="397.5" x2="489.7" y2="380.7" stroke="#111" stroke-width="0.9" />
<line x1="454.8" y1="401.5" x2="489.7" y2="413.0" stroke="#111" stroke-width="0.9" />
<line x1="454.8" y1="408.2" x2="489.7" y2="415.6" stroke="#111" stroke-width="0.9" />
<line x1="454.8" y1="411.6" x2="489.7" y2="415.6" stroke="#111" stroke-width="0.9" />
<line x1="454.8" y1="414.6" x2="489.7" y2="426.3" stroke="#111" stroke-width="0.9" />
<line x1="454.8" y1="416.6" x2="489.7" y2="419.7" stroke="#111" stroke-width="0.9" />
<line x1="454.8" y1="418.7" x2="489.7" y2="413.0" stroke="#111" stroke-width="0.9" />
<line x1="454.8" y1="420.3" x2="489.7" y2="428.4" stroke="#111" stroke-width="0.9" />
<line x1="454.8" y1="424.7" x2="489.7" y2="431.8" stroke="#111" stroke-width="0.9" />
<line x1="454.8" y1="416.6" x2="489.7" y2="418.7" stroke="#111" stroke-width="0.9" />
<rect x="453.1" y="364.1" width="3.4" height="3.4" fill="#b0102c"/>
<circle cx="489.7" cy="410.6" r="1.8" fill="#10108e"/>
<rect x="453.1" y="378.6" width="3.4" height="3.4" fill="#b0102c"/>
<circle cx="489.7" cy="399.5" r="1.8" fill="#10108e"/>
<rect x="453.1" y="380.2" width="3.4" height="3.4" fill="#b0102c"/>
<circle cx="489.7" cy="401.5" r="1.8" fill="#10108e"/>
<circle cx="489.7" cy="380.7" r="1.8" fill="#10108e"/>
<rect x="453.1" y="399.8" width="3.4" height="3.4" fill="#b0102c"/>
<circle cx="489.7" cy="413" r="1.8" fill="#10108e"/>
<rect x="453.1" y="406.5" width="3.4" height="3.4" fill="#b0102c"/>
<circle cx="489.7" cy="415.6" r="1.8" fill="#10108e"/>
<rect x="453.1" y="409.9" width="3.4" height="3.4" fill="#b0102c"/>
<circle cx="489.7" cy="415.6" r="1.8" fill="#10108e"/>
<rect x="453.1" y="412.9" width="3.4" height="3.4" fill="#b0102c"/>
<circle cx="489.7" cy="426.3" r="1.8" fill="#10108e"/>
<rect x="453.1" y="414.9" width="3.4" height="3.4" fill="#b0102c"/>
<circle cx="489.7" cy="419.7" r="1.8" fill="#10108e"/>
<rect x="453.1" y="417.0" width="3.4" height="3.4" fill="#b0102c"/>
<circle cx="489.7" cy="413" r="1.8" fill="#10108e"/>
<rect x="453.1" y="418.6" width="3.4" height="3.4" fill="#b0102c"/>
<circle cx="489.7" cy="428.4" r="1.8" fill="#10108e"/>
<rect x="453.1" y="423.0" width="3.4" height="3.4" fill="#b0102c"/>
<circle cx="489.7" cy="431.8" r="1.8" fill="#10108e"/>
<rect x="453.1" y="414.9" width="3.4" height="3.4" fill="#b0102c"/>
<circle cx="489.7" cy="418.7" r="1.8" fill="#10108e"/>
<line x1="74.8" y1="477.8" x2="74.8" y2="619.4" stroke="#111" stroke-width="1.5" />
<line x1="70.3" y1="618.8" x2="301.0" y2="618.8" stroke="#111" stroke-width="1.5" />
<line x1="70.3" y1="618.8" x2="74.8" y2="618.8" stroke="#111" stroke-width="1.3" />
<text x="67.8" y="621.7" font-size="8" text-anchor="end" font-weight="bold" fill="#111" stroke="#111" stroke-width="0.18" >0</text>
<line x1="70.3" y1="598.8" x2="74.8" y2="598.8" stroke="#111" stroke-width="1.3" />
<text x="67.8" y="601.6" font-size="8" text-anchor="end" font-weight="bold" fill="#111" stroke="#111" stroke-width="0.18" >200</text>
<line x1="70.3" y1="578.7" x2="74.8" y2="578.7" stroke="#111" stroke-width="1.3" />
<text x="67.8" y="581.6" font-size="8" text-anchor="end" font-weight="bold" fill="#111" stroke="#111" stroke-width="0.18" >400</text>
<line x1="70.3" y1="558.6" x2="74.8" y2="558.6" stroke="#111" stroke-width="1.3" />
<text x="67.8" y="561.5" font-size="8" text-anchor="end" font-weight="bold" fill="#111" stroke="#111" stroke-width="0.18" >600</text>
<line x1="70.3" y1="538.6" x2="74.8" y2="538.6" stroke="#111" stroke-width="1.3" />
<text x="67.8" y="541.5" font-size="8" text-anchor="end" font-weight="bold" fill="#111" stroke="#111" stroke-width="0.18" >800</text>
<line x1="70.3" y1="518.5" x2="74.8" y2="518.5" stroke="#111" stroke-width="1.3" />
<text x="67.8" y="521.4" font-size="8" text-anchor="end" font-weight="bold" fill="#111" stroke="#111" stroke-width="0.18" >1000</text>
<line x1="70.3" y1="498.5" x2="74.8" y2="498.5" stroke="#111" stroke-width="1.3" />
<text x="67.8" y="501.4" font-size="8" text-anchor="end" font-weight="bold" fill="#111" stroke="#111" stroke-width="0.18" >1200</text>
<line x1="70.3" y1="478.4" x2="74.8" y2="478.4" stroke="#111" stroke-width="1.3" />
<text x="67.8" y="481.3" font-size="8" text-anchor="end" font-weight="bold" fill="#111" stroke="#111" stroke-width="0.18" >1400</text>
<line x1="74.8" y1="618.8" x2="74.8" y2="623.0" stroke="#111" stroke-width="1.3" />
<text x="74.8" y="634.4" font-size="8" text-anchor="middle" font-weight="bold" fill="#111" stroke="#111" stroke-width="0.18" >0</text>
<line x1="119.9" y1="618.8" x2="119.9" y2="623.0" stroke="#111" stroke-width="1.3" />
<text x="119.9" y="634.4" font-size="8" text-anchor="middle" font-weight="bold" fill="#111" stroke="#111" stroke-width="0.18" >7</text>
<line x1="165.0" y1="618.8" x2="165.0" y2="623.0" stroke="#111" stroke-width="1.3" />
<text x="165.0" y="634.4" font-size="8" text-anchor="middle" font-weight="bold" fill="#111" stroke="#111" stroke-width="0.18" >14</text>
<line x1="210.1" y1="618.8" x2="210.1" y2="623.0" stroke="#111" stroke-width="1.3" />
<text x="210.1" y="634.4" font-size="8" text-anchor="middle" font-weight="bold" fill="#111" stroke="#111" stroke-width="0.18" >21</text>
<line x1="255.3" y1="618.8" x2="255.3" y2="623.0" stroke="#111" stroke-width="1.3" />
<text x="255.3" y="634.4" font-size="8" text-anchor="middle" font-weight="bold" fill="#111" stroke="#111" stroke-width="0.18" >28</text>
<line x1="300.4" y1="618.8" x2="300.4" y2="623.0" stroke="#111" stroke-width="1.3" />
<text x="300.4" y="634.4" font-size="8" text-anchor="middle" font-weight="bold" fill="#111" stroke="#111" stroke-width="0.18" >35</text>
<text x="0" y="0" transform="translate(39.5,550.5) rotate(-90)" font-size="8.7" text-anchor="middle" dominant-baseline="central" font-weight="bold" fill="#111" stroke="#111" stroke-width="0.18">Platelet counts(× 109/L)</text>
<text x="187.0" y="649.2" font-size="9.1" text-anchor="middle" font-weight="bold" fill="#111" stroke="#111" stroke-width="0.18" >Time after treatment (days)</text>
<line x1="74.8" y1="485.5" x2="74.8" y2="497.5" stroke="#2aaa2a" stroke-width="1.0" />
<line x1="71.6" y1="485.5" x2="78.0" y2="485.5" stroke="#2aaa2a" stroke-width="1.0" />
<line x1="71.6" y1="497.5" x2="78.0" y2="497.5" stroke="#2aaa2a" stroke-width="1.0" />
<line x1="119.9" y1="587.7" x2="119.9" y2="595.7" stroke="#2aaa2a" stroke-width="1.0" />
<line x1="116.7" y1="587.7" x2="123.1" y2="587.7" stroke="#2aaa2a" stroke-width="1.0" />
<line x1="116.7" y1="595.7" x2="123.1" y2="595.7" stroke="#2aaa2a" stroke-width="1.0" />
<line x1="165.0" y1="595.7" x2="165.0" y2="601.8" stroke="#2aaa2a" stroke-width="1.0" />
<line x1="161.8" y1="595.7" x2="168.2" y2="595.7" stroke="#2aaa2a" stroke-width="1.0" />
<line x1="161.8" y1="601.8" x2="168.2" y2="601.8" stroke="#2aaa2a" stroke-width="1.0" />
<line x1="210.1" y1="576.7" x2="210.1" y2="588.7" stroke="#2aaa2a" stroke-width="1.0" />
<line x1="206.9" y1="576.7" x2="213.3" y2="576.7" stroke="#2aaa2a" stroke-width="1.0" />
<line x1="206.9" y1="588.7" x2="213.3" y2="588.7" stroke="#2aaa2a" stroke-width="1.0" />
<line x1="255.3" y1="540.8" x2="255.3" y2="569.7" stroke="#2aaa2a" stroke-width="1.0" />
<line x1="252.1" y1="540.8" x2="258.5" y2="540.8" stroke="#2aaa2a" stroke-width="1.0" />
<line x1="252.1" y1="569.7" x2="258.5" y2="569.7" stroke="#2aaa2a" stroke-width="1.0" />
<line x1="300.4" y1="528.8" x2="300.4" y2="537.4" stroke="#2aaa2a" stroke-width="1.0" />
<line x1="297.2" y1="528.8" x2="303.6" y2="528.8" stroke="#2aaa2a" stroke-width="1.0" />
<line x1="297.2" y1="537.4" x2="303.6" y2="537.4" stroke="#2aaa2a" stroke-width="1.0" />
<line x1="74.8" y1="487.5" x2="74.8" y2="499.5" stroke="#e0202a" stroke-width="1.0" />
<line x1="71.6" y1="487.5" x2="78.0" y2="487.5" stroke="#e0202a" stroke-width="1.0" />
<line x1="71.6" y1="499.5" x2="78.0" y2="499.5" stroke="#e0202a" stroke-width="1.0" />
<line x1="119.9" y1="585.3" x2="119.9" y2="597.3" stroke="#e0202a" stroke-width="1.0" />
<line x1="116.7" y1="585.3" x2="123.1" y2="585.3" stroke="#e0202a" stroke-width="1.0" />
<line x1="116.7" y1="597.3" x2="123.1" y2="597.3" stroke="#e0202a" stroke-width="1.0" />
<line x1="165.0" y1="603.8" x2="165.0" y2="613.8" stroke="#e0202a" stroke-width="1.0" />
<line x1="161.8" y1="603.8" x2="168.2" y2="603.8" stroke="#e0202a" stroke-width="1.0" />
<line x1="161.8" y1="613.8" x2="168.2" y2="613.8" stroke="#e0202a" stroke-width="1.0" />
<line x1="210.1" y1="595.5" x2="210.1" y2="605.6" stroke="#e0202a" stroke-width="1.0" />
<line x1="206.9" y1="595.5" x2="213.3" y2="595.5" stroke="#e0202a" stroke-width="1.0" />
<line x1="206.9" y1="605.6" x2="213.3" y2="605.6" stroke="#e0202a" stroke-width="1.0" />
<line x1="255.3" y1="548.2" x2="255.3" y2="618.8" stroke="#e0202a" stroke-width="1.0" />
<line x1="252.1" y1="548.2" x2="258.5" y2="548.2" stroke="#e0202a" stroke-width="1.0" />
<line x1="300.4" y1="548.3" x2="300.4" y2="564.4" stroke="#e0202a" stroke-width="1.0" />
<line x1="297.2" y1="548.3" x2="303.6" y2="548.3" stroke="#e0202a" stroke-width="1.0" />
<line x1="297.2" y1="564.4" x2="303.6" y2="564.4" stroke="#e0202a" stroke-width="1.0" />
<line x1="74.8" y1="480.0" x2="74.8" y2="497.0" stroke="#1a1ad8" stroke-width="1.0" />
<line x1="71.6" y1="480.0" x2="78.0" y2="480.0" stroke="#1a1ad8" stroke-width="1.0" />
<line x1="71.6" y1="497.0" x2="78.0" y2="497.0" stroke="#1a1ad8" stroke-width="1.0" />
<line x1="119.9" y1="592.5" x2="119.9" y2="603.6" stroke="#1a1ad8" stroke-width="1.0" />
<line x1="116.7" y1="592.5" x2="123.1" y2="592.5" stroke="#1a1ad8" stroke-width="1.0" />
<line x1="116.7" y1="603.6" x2="123.1" y2="603.6" stroke="#1a1ad8" stroke-width="1.0" />
<line x1="165.0" y1="606.0" x2="165.0" y2="614.0" stroke="#1a1ad8" stroke-width="1.0" />
<line x1="161.8" y1="606.0" x2="168.2" y2="606.0" stroke="#1a1ad8" stroke-width="1.0" />
<line x1="161.8" y1="614.0" x2="168.2" y2="614.0" stroke="#1a1ad8" stroke-width="1.0" />
<line x1="210.1" y1="586.9" x2="210.1" y2="618.8" stroke="#1a1ad8" stroke-width="1.0" />
<line x1="206.9" y1="586.9" x2="213.3" y2="586.9" stroke="#1a1ad8" stroke-width="1.0" />
<line x1="255.3" y1="565.4" x2="255.3" y2="618.8" stroke="#1a1ad8" stroke-width="1.0" />
<line x1="252.1" y1="565.4" x2="258.5" y2="565.4" stroke="#1a1ad8" stroke-width="1.0" />
<line x1="300.4" y1="544.9" x2="300.4" y2="601.1" stroke="#1a1ad8" stroke-width="1.0" />
<line x1="297.2" y1="544.9" x2="303.6" y2="544.9" stroke="#1a1ad8" stroke-width="1.0" />
<line x1="297.2" y1="601.1" x2="303.6" y2="601.1" stroke="#1a1ad8" stroke-width="1.0" />
<polyline points="74.8,491.5 119.9,591.7 165.0,598.8 210.1,582.7 255.3,555.2 300.4,533.1" fill="none" stroke="#2aaa2a" stroke-width="1.8" stroke-dasharray="4,3"/>
<path d="M74.8,487.9 L78.4,494.1 L71.2,494.1 Z" fill="#2aaa2a"/>
<path d="M119.9,588.1 L123.5,594.3 L116.3,594.3 Z" fill="#2aaa2a"/>
<path d="M165.0,595.1 L168.6,601.4 L161.4,601.4 Z" fill="#2aaa2a"/>
<path d="M210.1,579.1 L213.7,585.3 L206.5,585.3 Z" fill="#2aaa2a"/>
<path d="M255.3,551.6 L258.9,557.8 L251.7,557.8 Z" fill="#2aaa2a"/>
<path d="M300.4,529.5 L304.0,535.7 L296.8,535.7 Z" fill="#2aaa2a"/>
<polyline points="74.8,493.5 119.9,591.3 165.0,608.8 210.1,600.6 255.3,587.1 300.4,556.3" fill="none" stroke="#e0202a" stroke-width="1.8" stroke-dasharray="4,3"/>
<rect x="71.7" y="490.4" width="6.2" height="6.2" fill="#e0202a"/>
<rect x="116.8" y="588.2" width="6.2" height="6.2" fill="#e0202a"/>
<rect x="161.9" y="605.7" width="6.2" height="6.2" fill="#e0202a"/>
<rect x="207.0" y="597.5" width="6.2" height="6.2" fill="#e0202a"/>
<rect x="252.2" y="584.0" width="6.2" height="6.2" fill="#e0202a"/>
<rect x="297.3" y="553.2" width="6.2" height="6.2" fill="#e0202a"/>
<polyline points="74.8,488.5 119.9,598.0 165.0,610.0 210.1,607.0 255.3,594.4 300.4,573.0" fill="none" stroke="#1a1ad8" stroke-width="1.8" />
<circle cx="74.8" cy="488.5" r="3.4" fill="#1a1ad8"/>
<circle cx="119.9" cy="598.0" r="3.4" fill="#1a1ad8"/>
<circle cx="165.0" cy="610.0" r="3.4" fill="#1a1ad8"/>
<circle cx="210.1" cy="607.0" r="3.4" fill="#1a1ad8"/>
<circle cx="255.3" cy="594.4" r="3.4" fill="#1a1ad8"/>
<circle cx="300.4" cy="573.0" r="3.4" fill="#1a1ad8"/>
<path d="M165.03,573.80L165.03,580.20M167.80,575.40L162.26,578.60M167.80,578.60L162.26,575.40" stroke="#111" stroke-width="1.15" stroke-linecap="butt"/>
<path d="M205.94,558.30L205.94,564.70M208.72,559.90L203.17,563.10M208.72,563.10L203.17,559.90" stroke="#111" stroke-width="1.15" stroke-linecap="butt"/>
<path d="M214.34,558.30L214.34,564.70M217.12,559.90L211.57,563.10M217.12,563.10L211.57,559.90" stroke="#111" stroke-width="1.15" stroke-linecap="butt"/>
<path d="M255.26,522.70L255.26,529.10M258.03,524.30L252.49,527.50M258.03,527.50L252.49,524.30" stroke="#111" stroke-width="1.15" stroke-linecap="butt"/>
<path d="M300.38,509.80L300.38,516.20M303.15,511.40L297.60,514.60M303.15,514.60L297.60,511.40" stroke="#111" stroke-width="1.15" stroke-linecap="butt"/>
<line x1="323.1" y1="482.3" x2="338.6" y2="482.3" stroke="#1a1ad8" stroke-width="1.8" />
<circle cx="330.8" cy="482.3" r="3.2" fill="#1a1ad8"/>
<text x="348.1" y="485.5" font-size="8.9" text-anchor="start" font-weight="bold" fill="#111" stroke="#111" stroke-width="0.18" >control</text>
<line x1="323.1" y1="501.3" x2="338.6" y2="501.3" stroke="#e0202a" stroke-width="1.8" stroke-dasharray="3.5,3"/>
<rect x="327.8" y="498.3" width="6" height="6" fill="#e0202a"/>
<text x="348.1" y="504.5" font-size="8.9" text-anchor="start" font-weight="bold" fill="#111" stroke="#111" stroke-width="0.18" >MDSC+PBS</text>
<line x1="323.1" y1="520.3" x2="338.6" y2="520.3" stroke="#2aaa2a" stroke-width="1.8" stroke-dasharray="3.5,3"/>
<path d="M330.8,516.9 L334.2,522.8 L327.4,522.8 Z" fill="#2aaa2a"/>
<text x="348.1" y="523.5" font-size="8.9" text-anchor="start" font-weight="bold" fill="#111" stroke="#111" stroke-width="0.18" >MDSC+Dec</text>
</svg>
</body></html>
